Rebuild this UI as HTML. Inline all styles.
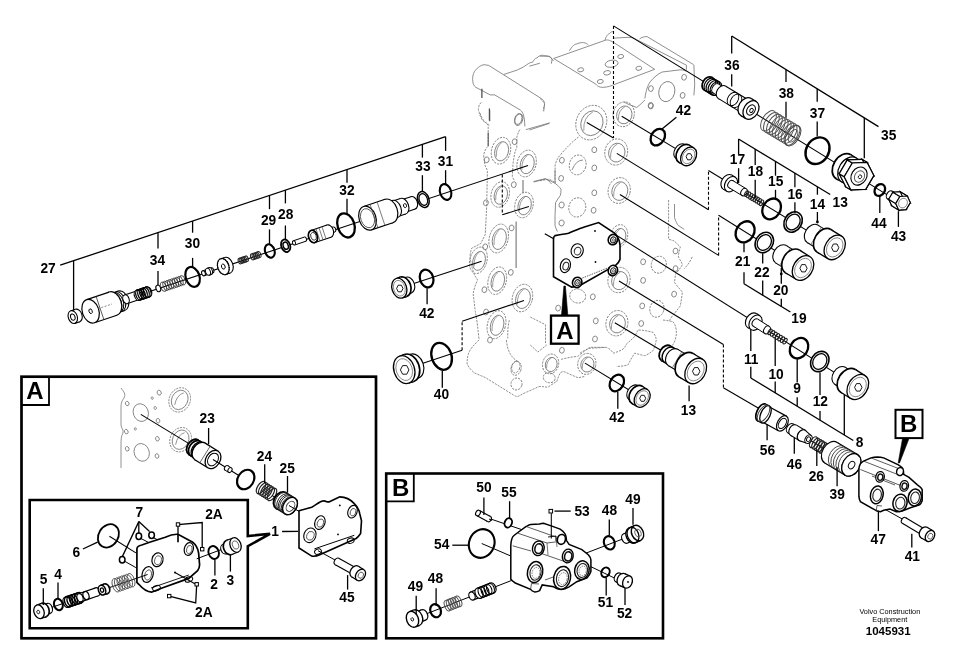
<!DOCTYPE html>
<html><head><meta charset="utf-8"><style>
html,body{margin:0;padding:0;background:#fff;width:954px;height:663px;overflow:hidden}
svg{display:block;will-change:transform}
text{font-family:"Liberation Sans",sans-serif;fill:#000}
</style></head><body>
<svg width="954" height="663" viewBox="0 0 954 663">
<rect width="954" height="663" fill="#fff"/>
<path d="M472.8,81.3 C472,76 474,72 475.1,70.7 C478,67 481,65 484.1,64.7 L488.7,65.4 L541.4,98.6 C544,100.5 545,103 544.5,105 L543.7,111.4" fill="none" stroke="#7a7a7a" stroke-width="0.85" />
<path d="M472.8,81.3 C473,84 474,86 475.8,87.3 L490.2,94.9 L494.7,94.9 L520.3,110 C523,112 524.5,116 524.9,126.5" fill="none" stroke="#7a7a7a" stroke-width="0.85" />
<ellipse cx="518.8" cy="119.7" rx="3.8" ry="6" transform="rotate(20 518.8 119.7)" fill="none" stroke="#7a7a7a" stroke-width="0.85" />
<line x1="481.9" y1="88.8" x2="481.9" y2="97.9" stroke="#444" stroke-width="1.2" />
<line x1="489.4" y1="108.4" x2="489.4" y2="120.5" stroke="#444" stroke-width="1.2" />
<path d="M481.1,102.4 C478,106 478,110 478.9,111.4 C480,116 481,118 482.6,120.5 L489.4,125" fill="none" stroke="#7a7a7a" stroke-width="0.85" stroke-dasharray="2.2,1.1"/>
<path d="M503.7,74.5 L517.3,70 L523.3,67 C528,64 530,62 532.4,62.4 C534,60 535,58 536.9,57.9 C540,55 542,55 544.5,55.6 C548,56 550,57 550.5,57.1 L553.5,60.9" fill="none" stroke="#7a7a7a" stroke-width="0.85" />
<line x1="529.4" y1="66.2" x2="539.9" y2="63.2" stroke="#7a7a7a" stroke-width="0.85" />
<line x1="529.4" y1="130" x2="549" y2="123.5" stroke="#7a7a7a" stroke-width="0.85" />
<path d="M553.6,58.5 L604.9,40.4 C607,39.5 609,39.8 613.9,42.6 L654.7,69.3 L609.4,86.4 C605,87.5 602,87.5 600.3,87.1 C598,86.5 597,85.5 595.8,84.1 Z" fill="none" stroke="#7a7a7a" stroke-width="0.85" />
<path d="M569.4,50.9 C572,46 575,44 576.2,44.1 C580,42.5 582,42.5 583.7,42.6 C586,43 587,44 588.3,44.9" fill="none" stroke="#7a7a7a" stroke-width="0.85" />
<path d="M604.9,40.4 C606,36 608,34 609.4,33.6 C611,32 612,31.5 613.9,31.3" fill="none" stroke="#7a7a7a" stroke-width="0.85" />
<path d="M613.9,38.1 L629,37.3 C633,37.5 635,38.5 636.5,39.6" fill="none" stroke="#7a7a7a" stroke-width="0.85" />
<path d="M639.6,38.9 C642,37 645,36.5 647.1,36.6 L690.9,63 C692.5,64 693.5,64.5 693.9,65.2 L694.7,84.9 L693.9,95.4" fill="none" stroke="#7a7a7a" stroke-width="0.85" />
<path d="M636.6,39.6 L686.4,65.2 L686.4,69.8" fill="none" stroke="#7a7a7a" stroke-width="0.85" />
<ellipse cx="580.7" cy="69.8" rx="3" ry="2" transform="rotate(-10 580.7 69.8)" fill="none" stroke="#7a7a7a" stroke-width="0.85" />
<ellipse cx="611.6" cy="63.7" rx="6.5" ry="3.5" transform="rotate(-10 611.6 63.7)" fill="none" stroke="#7a7a7a" stroke-width="0.85" />
<ellipse cx="607.1" cy="72.8" rx="3.5" ry="2.2" transform="rotate(-10 607.1 72.8)" fill="none" stroke="#7a7a7a" stroke-width="0.85" />
<ellipse cx="600.3" cy="81.5" rx="3" ry="2" transform="rotate(-10 600.3 81.5)" fill="none" stroke="#7a7a7a" stroke-width="0.85" />
<ellipse cx="620.7" cy="56.5" rx="3" ry="2" transform="rotate(-10 620.7 56.5)" fill="none" stroke="#7a7a7a" stroke-width="0.85" />
<ellipse cx="638.8" cy="68.3" rx="3" ry="2" transform="rotate(-10 638.8 68.3)" fill="none" stroke="#7a7a7a" stroke-width="0.85" />
<path d="M540,56.2 L549,56.2 C551,57.5 552,59 552,60 L551.3,63.7" fill="none" stroke="#7a7a7a" stroke-width="0.85" />
<path d="M540,98.4 C543,101 544.5,103 544.5,104.5 L543,110.5" fill="none" stroke="#7a7a7a" stroke-width="0.85" stroke-dasharray="2.2,1.1"/>
<path d="M644.9,98.4 C646,90 648,85 650.2,81.8 C654,77 658,74 662.2,72 L680.3,69.8 C683,70 685,70.5 686.4,71.3" fill="none" stroke="#7a7a7a" stroke-width="0.85" />
<ellipse cx="666.8" cy="91.6" rx="7.9" ry="10.2" transform="rotate(15 666.8 91.6)" fill="none" stroke="#7a7a7a" stroke-width="0.85" />
<path d="M624,102 C626,103 627.5,104 629,104.5 L636.6,107.5 C640,105 643,102 644.9,100" fill="none" stroke="#7a7a7a" stroke-width="0.85" />
<line x1="489.7" y1="110" x2="489.7" y2="121.3" stroke="#555" stroke-width="1.1" />
<path d="M479.9,113 C481,116 482,118 483.7,120.6 L488.2,125.1 L488.2,146.2 C487.5,147 487,147.5 486.7,147.7 C485,150 484,153 483.7,155.2 C484,160 484.5,163 485.2,165.8 L487.4,170.3 L486.7,206 C486,220 485.5,230 485.2,234.7 C483,239 482,241 480.6,243.7 C476,246 474,247 471.6,248.3 C470.5,252 470,255 470.1,257.3 C471,265 473,271 474.6,275.4 L477.6,280 C475,285 474,290 473.1,293.5 C474,300 475,310 475.4,312 C477,320 478,330 479.1,339.8 C474,345 470,349 468.6,353.3 C467.5,357 467,360 467.1,363.9 C469,368 472,371 474.6,373 L485.2,377.5 L514,395.3 C516,396.5 517,396.7 517.7,396.6 C521,395 524,393 527.8,391.6 L539.1,386.5 C543,386.5 545,387 547.9,387.2 C551,385 554,383 556.7,381.5 C558,378 559,375 560.5,372.7 L563,371.4 C568,373 573,376 578.1,377.7 L584.4,376.5" fill="none" stroke="#7a7a7a" stroke-width="0.85" stroke-dasharray="2.2,1.1"/>
<line x1="488.2" y1="132.6" x2="488.2" y2="146.2" stroke="#555" stroke-width="1.1" />
<path d="M519.9,129.6 C519,131 518.5,132 518.3,132.6 L516.8,137.1 L516.8,147.7 C515.5,150 515,152 514.6,153.7 L513.1,162.8 L512.3,176.4 C513,178.5 514,180 514.6,180.9" fill="none" stroke="#7a7a7a" stroke-width="0.85" stroke-dasharray="2.2,1.1"/>
<line x1="516.1" y1="221.5" x2="516.1" y2="268" stroke="#666" stroke-width="1.0" />
<line x1="523" y1="180" x2="523" y2="193" stroke="#666" stroke-width="1.0" />
<line x1="525.9" y1="129.6" x2="550" y2="122.8" stroke="#7a7a7a" stroke-width="0.85" />
<path d="M533.4,181.6 L545.5,178.6 C548,180 550,182 551.5,183.9" fill="none" stroke="#7a7a7a" stroke-width="0.85" />
<path d="M578.5,137 C572,142 566,148 559.6,155.8 C557,159 556,162 555.1,164.9 L555.1,183 C553,181 551,180 549,179.2 L540,180.7" fill="none" stroke="#7a7a7a" stroke-width="0.85" stroke-dasharray="2.2,1.1"/>
<path d="M533.9,182 L545.3,179 C549,180 552,181.5 555,183.3 C558,185.5 560,187.5 561,189.3 C561,191.5 560.8,193.5 560.4,195.3 C558.5,198 557,200 555.6,202.6 L555,215.8 L555,225.5 C555.8,228 556.6,230 557.4,231.5" fill="none" stroke="#7a7a7a" stroke-width="0.85" />
<line x1="555" y1="170" x2="555" y2="183.3" stroke="#7a7a7a" stroke-width="0.85" />
<ellipse cx="577.3" cy="207.4" rx="8.4" ry="9.7" transform="rotate(15 577.3 207.4)" fill="none" stroke="#7a7a7a" stroke-width="0.85" stroke-dasharray="2.2,1.1"/>
<ellipse cx="561.6" cy="205" rx="2.6" ry="3" transform="rotate(10 561.6 205)" fill="none" stroke="#7a7a7a" stroke-width="0.85" />
<ellipse cx="561.6" cy="223" rx="2.6" ry="3" transform="rotate(10 561.6 223)" fill="none" stroke="#7a7a7a" stroke-width="0.85" />
<path d="M674.5,204 L674.5,217.6 C676,222 677,224 678.4,225.5 L684.3,229.4" fill="none" stroke="#7a7a7a" stroke-width="0.85" />
<path d="M668.6,200 L668.6,239.2 C671,240 673,240.5 674.5,241.2 L680.4,247 C679,251 678.5,254 678.4,256.9 C680,260 681.5,262 682.4,264.7 C680,269 677,272 675.5,274.5 L674.5,282.4 C677,286 680,289 682.4,292.2 L680.4,305.9 C677,310 675,313 672.5,315.7 L668.6,321.6" fill="none" stroke="#7a7a7a" stroke-width="0.85" stroke-dasharray="2.2,1.1"/>
<path d="M692.2,256.9 C690,262 687,266 684.3,268.6" fill="none" stroke="#7a7a7a" stroke-width="0.85" stroke-dasharray="2.2,1.1"/>
<path d="M663,320 C667,320.5 670,321 672.9,321.7 C675,324 676,327 676.2,330 C677,336 675,342 672,346" fill="none" stroke="#7a7a7a" stroke-width="0.85" stroke-dasharray="2.2,1.1"/>
<path d="M580,353.2 C583,351 587,349 590,348.2 L606.5,347.4 C610,349 612,351 613.2,353.2 C617,352 620,351 623.1,349 C625,347 626,345.5 626.4,344 C630,341 632,339 634.7,336.6 C636,334 637,332 638,330 C643,330 648,331 653,332.4 C655,335 656,337 656.3,339.9 C655.5,344 654.5,348 653,350.7 C650,353 647,355 644.7,355.7 C641,355 638,354 634.7,353.2 C632,357 630,361 628.1,364.8 C624,366 620,366.5 616.5,366.4" fill="none" stroke="#7a7a7a" stroke-width="0.85" stroke-dasharray="2.2,1.1"/>
<path d="M561.1,359.4 C566,358 571,357 577.7,356.4 C582,353 586,350 589.8,347.3 L604.9,347.3" fill="none" stroke="#7a7a7a" stroke-width="0.85" stroke-dasharray="2.2,1.1"/>
<path d="M506.4,340 C507,346 508,350 510.2,353.8 C512,357 514,359 517.7,361.4" fill="none" stroke="#7a7a7a" stroke-width="0.85" stroke-dasharray="2.2,1.1"/>
<path d="M530.3,345 L537.9,352 L546.7,345" fill="none" stroke="#7a7a7a" stroke-width="0.85" stroke-dasharray="2.2,1.1"/>
<path d="M530.4,317.1 L545.5,324.7 L545.5,344.3 M509.3,320.2 C508,326 507.5,332 507.8,338.3" fill="none" stroke="#7a7a7a" stroke-width="0.85" stroke-dasharray="2.2,1.1"/>
<ellipse cx="501" cy="150.7" rx="9.4" ry="13.6" transform="rotate(15 501 150.7)" fill="none" stroke="#7a7a7a" stroke-width="0.85" stroke-dasharray="2.2,1.1"/>
<ellipse cx="501.6" cy="151.3" rx="6.8" ry="9.8" transform="rotate(15 501.6 151.3)" fill="none" stroke="#7a7a7a" stroke-width="0.85" />
<path d="M496.3,156.8 Q495.8,146.6 501.9,142.5" fill="none" stroke="#7a7a7a" stroke-width="0.765" />
<ellipse cx="526.6" cy="163.5" rx="9.4" ry="13.6" transform="rotate(15 526.6 163.5)" fill="none" stroke="#7a7a7a" stroke-width="0.85" stroke-dasharray="2.2,1.1"/>
<ellipse cx="527.2" cy="164.1" rx="6.8" ry="9.8" transform="rotate(15 527.2 164.1)" fill="none" stroke="#7a7a7a" stroke-width="0.85" />
<path d="M521.9,169.6 Q521.4,159.4 527.5,155.3" fill="none" stroke="#7a7a7a" stroke-width="0.765" />
<ellipse cx="500.2" cy="194.5" rx="9" ry="13" transform="rotate(15 500.2 194.5)" fill="none" stroke="#7a7a7a" stroke-width="0.85" stroke-dasharray="2.2,1.1"/>
<ellipse cx="500.8" cy="195.1" rx="6.5" ry="9.4" transform="rotate(15 500.8 195.1)" fill="none" stroke="#7a7a7a" stroke-width="0.85" />
<path d="M495.7,200.3 Q495.2,190.6 501.1,186.7" fill="none" stroke="#7a7a7a" stroke-width="0.765" />
<ellipse cx="524" cy="205" rx="9" ry="13" transform="rotate(15 524 205)" fill="none" stroke="#7a7a7a" stroke-width="0.85" stroke-dasharray="2.2,1.1"/>
<ellipse cx="524.6" cy="205.6" rx="6.5" ry="9.4" transform="rotate(15 524.6 205.6)" fill="none" stroke="#7a7a7a" stroke-width="0.85" />
<path d="M519.5,210.8 Q519.0,201.1 524.9,197.2" fill="none" stroke="#7a7a7a" stroke-width="0.765" />
<ellipse cx="498.7" cy="238.5" rx="9.4" ry="14.7" transform="rotate(15 498.7 238.5)" fill="none" stroke="#7a7a7a" stroke-width="0.85" stroke-dasharray="2.2,1.1"/>
<ellipse cx="499.3" cy="239.1" rx="6.8" ry="10.6" transform="rotate(15 499.3 239.1)" fill="none" stroke="#7a7a7a" stroke-width="0.85" />
<path d="M494.0,245.1 Q493.5,234.1 499.6,229.7" fill="none" stroke="#7a7a7a" stroke-width="0.765" />
<ellipse cx="478.4" cy="260.3" rx="8.5" ry="13.5" transform="rotate(15 478.4 260.3)" fill="none" stroke="#7a7a7a" stroke-width="0.85" stroke-dasharray="2.2,1.1"/>
<ellipse cx="479" cy="260.9" rx="6.1" ry="9.7" transform="rotate(15 479 260.9)" fill="none" stroke="#7a7a7a" stroke-width="0.85" />
<path d="M474.1,266.4 Q473.7,256.2 479.2,252.2" fill="none" stroke="#7a7a7a" stroke-width="0.765" />
<ellipse cx="497.2" cy="280.7" rx="9" ry="14" transform="rotate(15 497.2 280.7)" fill="none" stroke="#7a7a7a" stroke-width="0.85" stroke-dasharray="2.2,1.1"/>
<ellipse cx="497.8" cy="281.3" rx="6.5" ry="10.1" transform="rotate(15 497.8 281.3)" fill="none" stroke="#7a7a7a" stroke-width="0.85" />
<path d="M492.7,287.0 Q492.2,276.5 498.1,272.3" fill="none" stroke="#7a7a7a" stroke-width="0.765" />
<ellipse cx="522.4" cy="298" rx="10" ry="14" transform="rotate(15 522.4 298)" fill="none" stroke="#7a7a7a" stroke-width="0.85" stroke-dasharray="2.2,1.1"/>
<ellipse cx="523" cy="298.6" rx="7.2" ry="10.1" transform="rotate(15 523 298.6)" fill="none" stroke="#7a7a7a" stroke-width="0.85" />
<path d="M517.4,304.3 Q516.9,293.8 523.4,289.6" fill="none" stroke="#7a7a7a" stroke-width="0.765" />
<ellipse cx="496.5" cy="324.7" rx="9" ry="14.3" transform="rotate(15 496.5 324.7)" fill="none" stroke="#7a7a7a" stroke-width="0.85" stroke-dasharray="2.2,1.1"/>
<ellipse cx="497.1" cy="325.3" rx="6.5" ry="10.3" transform="rotate(15 497.1 325.3)" fill="none" stroke="#7a7a7a" stroke-width="0.85" />
<path d="M492.0,331.1 Q491.6,320.4 497.4,316.1" fill="none" stroke="#7a7a7a" stroke-width="0.765" />
<ellipse cx="616.2" cy="152" rx="11.3" ry="13.2" transform="rotate(15 616.2 152)" fill="none" stroke="#7a7a7a" stroke-width="0.85" stroke-dasharray="2.2,1.1"/>
<ellipse cx="616.8" cy="152.6" rx="8.1" ry="9.5" transform="rotate(15 616.8 152.6)" fill="none" stroke="#7a7a7a" stroke-width="0.85" />
<path d="M610.6,157.9 Q610.0,148.0 617.3,144.1" fill="none" stroke="#7a7a7a" stroke-width="0.765" />
<ellipse cx="623.7" cy="114.3" rx="10.5" ry="12.5" transform="rotate(15 623.7 114.3)" fill="none" stroke="#7a7a7a" stroke-width="0.85" stroke-dasharray="2.2,1.1"/>
<ellipse cx="624.3" cy="114.9" rx="7.6" ry="9" transform="rotate(15 624.3 114.9)" fill="none" stroke="#7a7a7a" stroke-width="0.85" />
<path d="M618.5,119.9 Q617.9,110.5 624.8,106.8" fill="none" stroke="#7a7a7a" stroke-width="0.765" />
<ellipse cx="619.2" cy="190.5" rx="11" ry="13" transform="rotate(15 619.2 190.5)" fill="none" stroke="#7a7a7a" stroke-width="0.85" stroke-dasharray="2.2,1.1"/>
<ellipse cx="619.8" cy="191.1" rx="7.9" ry="9.4" transform="rotate(15 619.8 191.1)" fill="none" stroke="#7a7a7a" stroke-width="0.85" />
<path d="M613.7,196.3 Q613.2,186.6 620.3,182.7" fill="none" stroke="#7a7a7a" stroke-width="0.765" />
<ellipse cx="616.9" cy="323.2" rx="10.9" ry="12.8" transform="rotate(15 616.9 323.2)" fill="none" stroke="#7a7a7a" stroke-width="0.85" stroke-dasharray="2.2,1.1"/>
<ellipse cx="617.5" cy="323.8" rx="7.8" ry="9.2" transform="rotate(15 617.5 323.8)" fill="none" stroke="#7a7a7a" stroke-width="0.85" />
<path d="M611.4,329.0 Q610.9,319.4 618.0,315.5" fill="none" stroke="#7a7a7a" stroke-width="0.765" />
<ellipse cx="586.8" cy="363.9" rx="9" ry="10.6" transform="rotate(15 586.8 363.9)" fill="none" stroke="#7a7a7a" stroke-width="0.85" stroke-dasharray="2.2,1.1"/>
<ellipse cx="587.4" cy="364.5" rx="6.5" ry="7.6" transform="rotate(15 587.4 364.5)" fill="none" stroke="#7a7a7a" stroke-width="0.85" />
<path d="M582.3,368.7 Q581.8,360.7 587.7,357.5" fill="none" stroke="#7a7a7a" stroke-width="0.765" />
<ellipse cx="550.6" cy="363.9" rx="8" ry="10" transform="rotate(15 550.6 363.9)" fill="none" stroke="#7a7a7a" stroke-width="0.85" stroke-dasharray="2.2,1.1"/>
<ellipse cx="551.2" cy="364.5" rx="5.8" ry="7.2" transform="rotate(15 551.2 364.5)" fill="none" stroke="#7a7a7a" stroke-width="0.85" />
<path d="M546.6,368.4 Q546.2,360.9 551.4,357.9" fill="none" stroke="#7a7a7a" stroke-width="0.765" />
<ellipse cx="619" cy="236" rx="8.5" ry="11.5" transform="rotate(15 619 236)" fill="none" stroke="#7a7a7a" stroke-width="0.85" stroke-dasharray="2.2,1.1"/>
<ellipse cx="619.6" cy="236.6" rx="6.1" ry="8.3" transform="rotate(15 619.6 236.6)" fill="none" stroke="#7a7a7a" stroke-width="0.85" />
<path d="M614.8,241.2 Q614.3,232.6 619.9,229.1" fill="none" stroke="#7a7a7a" stroke-width="0.765" />
<ellipse cx="619" cy="280" rx="11" ry="12.8" transform="rotate(15 619 280)" fill="none" stroke="#7a7a7a" stroke-width="0.85" stroke-dasharray="2.2,1.1"/>
<ellipse cx="619.6" cy="280.6" rx="7.9" ry="9.2" transform="rotate(15 619.6 280.6)" fill="none" stroke="#7a7a7a" stroke-width="0.85" />
<path d="M613.5,285.8 Q613.0,276.2 620.1,272.3" fill="none" stroke="#7a7a7a" stroke-width="0.765" />
<ellipse cx="591.3" cy="122.6" rx="15" ry="17.7" transform="rotate(25 591.3 122.6)" fill="none" stroke="#7a7a7a" stroke-width="0.85" stroke-dasharray="2.2,1.1"/>
<ellipse cx="591.9" cy="123.2" rx="10.8" ry="12.7" transform="rotate(25 591.9 123.2)" fill="none" stroke="#7a7a7a" stroke-width="0.85" />
<path d="M583.8,130.6 Q583.0,117.3 592.8,112.0" fill="none" stroke="#7a7a7a" stroke-width="0.765" />
<ellipse cx="577.7" cy="164.9" rx="8.3" ry="10" transform="rotate(15 577.7 164.9)" fill="none" stroke="#7a7a7a" stroke-width="0.85" stroke-dasharray="2.2,1.1"/>
<ellipse cx="658.8" cy="264.7" rx="7.5" ry="8.5" transform="rotate(15 658.8 264.7)" fill="none" stroke="#7a7a7a" stroke-width="0.85" stroke-dasharray="2.2,1.1"/>
<ellipse cx="656.9" cy="308.8" rx="7" ry="8.5" transform="rotate(15 656.9 308.8)" fill="none" stroke="#7a7a7a" stroke-width="0.85" stroke-dasharray="2.2,1.1"/>
<ellipse cx="516.1" cy="368.4" rx="5" ry="7" transform="rotate(15 516.1 368.4)" fill="none" stroke="#7a7a7a" stroke-width="0.85" stroke-dasharray="2.2,1.1"/>
<ellipse cx="577.7" cy="296" rx="8" ry="7" transform="rotate(15 577.7 296)" fill="none" stroke="#7a7a7a" stroke-width="0.85" stroke-dasharray="2.2,1.1"/>
<ellipse cx="516.5" cy="384" rx="5.5" ry="6" transform="rotate(15 516.5 384)" fill="none" stroke="#7a7a7a" stroke-width="0.85" stroke-dasharray="2.2,1.1"/>
<ellipse cx="549.2" cy="377.7" rx="6" ry="5" transform="rotate(15 549.2 377.7)" fill="none" stroke="#7a7a7a" stroke-width="0.85" stroke-dasharray="2.2,1.1"/>
<ellipse cx="515.8" cy="367" rx="4" ry="6" transform="rotate(15 515.8 367)" fill="none" stroke="#7a7a7a" stroke-width="0.85" stroke-dasharray="2.2,1.1"/>
<path d="M572,170 Q576,160 583,160" fill="none" stroke="#7a7a7a" stroke-width="0.85" />
<ellipse cx="514.6" cy="141.7" rx="2.4" ry="2.9" transform="rotate(10 514.6 141.7)" fill="none" stroke="#7a7a7a" stroke-width="0.85" />
<ellipse cx="486.7" cy="159.8" rx="2.4" ry="2.9" transform="rotate(10 486.7 159.8)" fill="none" stroke="#7a7a7a" stroke-width="0.85" />
<ellipse cx="513.8" cy="184.7" rx="2.4" ry="2.9" transform="rotate(10 513.8 184.7)" fill="none" stroke="#7a7a7a" stroke-width="0.85" />
<ellipse cx="485.9" cy="202.8" rx="2.4" ry="2.9" transform="rotate(10 485.9 202.8)" fill="none" stroke="#7a7a7a" stroke-width="0.85" />
<ellipse cx="511.6" cy="227.9" rx="2.4" ry="2.9" transform="rotate(10 511.6 227.9)" fill="none" stroke="#7a7a7a" stroke-width="0.85" />
<ellipse cx="485.2" cy="246.8" rx="2.4" ry="2.9" transform="rotate(10 485.2 246.8)" fill="none" stroke="#7a7a7a" stroke-width="0.85" />
<ellipse cx="510.8" cy="272.4" rx="2.4" ry="2.9" transform="rotate(10 510.8 272.4)" fill="none" stroke="#7a7a7a" stroke-width="0.85" />
<ellipse cx="484.4" cy="289.7" rx="2.4" ry="2.9" transform="rotate(10 484.4 289.7)" fill="none" stroke="#7a7a7a" stroke-width="0.85" />
<ellipse cx="594.3" cy="149.8" rx="2.4" ry="2.9" transform="rotate(10 594.3 149.8)" fill="none" stroke="#7a7a7a" stroke-width="0.85" />
<ellipse cx="594.3" cy="167.9" rx="2.4" ry="2.9" transform="rotate(10 594.3 167.9)" fill="none" stroke="#7a7a7a" stroke-width="0.85" />
<ellipse cx="561.9" cy="160.3" rx="2.4" ry="2.9" transform="rotate(10 561.9 160.3)" fill="none" stroke="#7a7a7a" stroke-width="0.85" />
<ellipse cx="561.1" cy="178.4" rx="2.4" ry="2.9" transform="rotate(10 561.1 178.4)" fill="none" stroke="#7a7a7a" stroke-width="0.85" />
<ellipse cx="594.3" cy="192.8" rx="2.4" ry="2.9" transform="rotate(10 594.3 192.8)" fill="none" stroke="#7a7a7a" stroke-width="0.85" />
<ellipse cx="592.8" cy="296.8" rx="2.4" ry="2.9" transform="rotate(10 592.8 296.8)" fill="none" stroke="#7a7a7a" stroke-width="0.85" />
<ellipse cx="595.8" cy="320.9" rx="2.4" ry="2.9" transform="rotate(10 595.8 320.9)" fill="none" stroke="#7a7a7a" stroke-width="0.85" />
<ellipse cx="595" cy="339" rx="2.4" ry="2.9" transform="rotate(10 595 339)" fill="none" stroke="#7a7a7a" stroke-width="0.85" />
<ellipse cx="561.9" cy="350.3" rx="2.4" ry="2.9" transform="rotate(10 561.9 350.3)" fill="none" stroke="#7a7a7a" stroke-width="0.85" />
<ellipse cx="558.1" cy="308.1" rx="2.4" ry="2.9" transform="rotate(10 558.1 308.1)" fill="none" stroke="#7a7a7a" stroke-width="0.85" />
<ellipse cx="643.1" cy="261.8" rx="2.4" ry="2.9" transform="rotate(10 643.1 261.8)" fill="none" stroke="#7a7a7a" stroke-width="0.85" />
<ellipse cx="643.1" cy="280.4" rx="2.4" ry="2.9" transform="rotate(10 643.1 280.4)" fill="none" stroke="#7a7a7a" stroke-width="0.85" />
<ellipse cx="642.2" cy="305.9" rx="2.4" ry="2.9" transform="rotate(10 642.2 305.9)" fill="none" stroke="#7a7a7a" stroke-width="0.85" />
<ellipse cx="641.2" cy="323.5" rx="2.4" ry="2.9" transform="rotate(10 641.2 323.5)" fill="none" stroke="#7a7a7a" stroke-width="0.85" />
<ellipse cx="675.5" cy="251" rx="2.4" ry="2.9" transform="rotate(10 675.5 251)" fill="none" stroke="#7a7a7a" stroke-width="0.85" />
<ellipse cx="675.5" cy="268.6" rx="2.4" ry="2.9" transform="rotate(10 675.5 268.6)" fill="none" stroke="#7a7a7a" stroke-width="0.85" />
<ellipse cx="674.1" cy="294.1" rx="2.4" ry="2.9" transform="rotate(10 674.1 294.1)" fill="none" stroke="#7a7a7a" stroke-width="0.85" />
<ellipse cx="650.6" cy="105.4" rx="2.4" ry="2.9" transform="rotate(10 650.6 105.4)" fill="none" stroke="#7a7a7a" stroke-width="0.85" />
<ellipse cx="593.6" cy="210.3" rx="2.4" ry="2.9" transform="rotate(10 593.6 210.3)" fill="none" stroke="#7a7a7a" stroke-width="0.85" />
<ellipse cx="650.9" cy="88.6" rx="2.4" ry="2.9" transform="rotate(10 650.9 88.6)" fill="none" stroke="#7a7a7a" stroke-width="0.85" />
<ellipse cx="684.1" cy="77.3" rx="2.4" ry="2.9" transform="rotate(10 684.1 77.3)" fill="none" stroke="#7a7a7a" stroke-width="0.85" />
<ellipse cx="650.9" cy="106" rx="2.4" ry="2.9" transform="rotate(10 650.9 106)" fill="none" stroke="#7a7a7a" stroke-width="0.85" />
<ellipse cx="682.6" cy="95.4" rx="2.4" ry="2.9" transform="rotate(10 682.6 95.4)" fill="none" stroke="#7a7a7a" stroke-width="0.85" />
<ellipse cx="490" cy="340" rx="2.4" ry="2.9" transform="rotate(10 490 340)" fill="none" stroke="#7a7a7a" stroke-width="0.85" />
<ellipse cx="486" cy="312" rx="2.4" ry="2.9" transform="rotate(10 486 312)" fill="none" stroke="#7a7a7a" stroke-width="0.85" />
<ellipse cx="518.3" cy="119" rx="3.5" ry="5.5" transform="rotate(15 518.3 119)" fill="none" stroke="#7a7a7a" stroke-width="0.85" />
<line x1="75.3" y1="316.3" x2="528" y2="165.5" stroke="#000" stroke-width="1.1" />
<line x1="502.3" y1="174.5" x2="502.3" y2="214.8" stroke="#000" stroke-width="1.1" stroke-dasharray="3,2"/>
<line x1="502.3" y1="214.8" x2="528.9" y2="206.5" stroke="#000" stroke-width="1.1" />
<line x1="399.3" y1="288.2" x2="481.6" y2="261.3" stroke="#000" stroke-width="1.1" />
<line x1="404.2" y1="369.6" x2="462.1" y2="350.2" stroke="#000" stroke-width="1.1" />
<line x1="462.1" y1="350.2" x2="462.1" y2="321.3" stroke="#000" stroke-width="1.1" stroke-dasharray="3,2"/>
<line x1="462.1" y1="321.3" x2="524" y2="300.5" stroke="#000" stroke-width="1.1" />
<line x1="613.5" y1="25.9" x2="897.8" y2="201.4" stroke="#000" stroke-width="1.1" />
<line x1="613.5" y1="25.9" x2="613.5" y2="138" stroke="#000" stroke-width="1.1" stroke-dasharray="3,2"/>
<line x1="586.8" y1="122.6" x2="613.5" y2="138" stroke="#000" stroke-width="1.1" />
<line x1="621.7" y1="116.3" x2="688.6" y2="156.4" stroke="#000" stroke-width="1.1" />
<line x1="616.8" y1="153.4" x2="708.5" y2="209.8" stroke="#000" stroke-width="1.1" />
<line x1="708.5" y1="209.8" x2="708.5" y2="170.5" stroke="#000" stroke-width="1.1" stroke-dasharray="3,2"/>
<line x1="708.5" y1="170.5" x2="834.7" y2="247.4" stroke="#000" stroke-width="1.1" />
<line x1="619.9" y1="194.5" x2="718.6" y2="255.4" stroke="#000" stroke-width="1.1" />
<line x1="718.6" y1="255.4" x2="718.6" y2="215.3" stroke="#000" stroke-width="1.1" stroke-dasharray="3,2"/>
<line x1="718.6" y1="215.3" x2="803" y2="268" stroke="#000" stroke-width="1.1" />
<line x1="600" y1="224.9" x2="857.8" y2="387.1" stroke="#000" stroke-width="1.1" />
<line x1="619" y1="281" x2="723.4" y2="344.5" stroke="#000" stroke-width="1.1" />
<line x1="723.4" y1="344.5" x2="723.4" y2="387.7" stroke="#000" stroke-width="1.1" stroke-dasharray="3,2"/>
<line x1="723.4" y1="387.7" x2="759" y2="408.5" stroke="#000" stroke-width="1.1" />
<line x1="614.8" y1="322.7" x2="695.7" y2="371" stroke="#000" stroke-width="1.1" />
<line x1="585" y1="363.1" x2="642.2" y2="398" stroke="#000" stroke-width="1.1" />
<ellipse cx="77.5" cy="315.6" rx="4.5" ry="6.6" transform="rotate(161.4 77.5 315.6)" fill="#fff" stroke="#000" stroke-width="1.1" />
<polygon points="75.4,309.3 70.7,310.9 74.9,323.4 79.6,321.8" fill="#fff" stroke="none" stroke-width="0" />
<line x1="75.4" y1="309.3" x2="70.7" y2="310.9" stroke="#000" stroke-width="1.1" />
<line x1="79.6" y1="321.8" x2="74.9" y2="323.4" stroke="#000" stroke-width="1.1" />
<ellipse cx="72.8" cy="317.1" rx="4.5" ry="6.6" transform="rotate(161.4 72.8 317.1)" fill="#fff" stroke="#000" stroke-width="1.1" />
<ellipse cx="72.8" cy="317.1" rx="2.2" ry="3.2" transform="rotate(-18.6 72.8 317.1)" fill="none" stroke="#000" stroke-width="1.0" />
<ellipse cx="121.5" cy="300.8" rx="6.9" ry="10.2" transform="rotate(161.4 121.5 300.8)" fill="#fff" stroke="#000" stroke-width="1.1" />
<polygon points="118.3,291.1 109.8,294 116.2,313.3 124.7,310.5" fill="#fff" stroke="none" stroke-width="0" />
<line x1="118.3" y1="291.1" x2="109.8" y2="294" stroke="#000" stroke-width="1.1" />
<line x1="124.7" y1="310.5" x2="116.2" y2="313.3" stroke="#000" stroke-width="1.1" />
<ellipse cx="113" cy="303.6" rx="6.9" ry="10.2" transform="rotate(161.4 113 303.6)" fill="#fff" stroke="#000" stroke-width="1.1" />
<ellipse cx="114.5" cy="303.1" rx="6.9" ry="10.2" transform="rotate(-18.6 114.5 303.1)" fill="none" stroke="#000" stroke-width="1.0" />
<ellipse cx="116.5" cy="302.5" rx="6.9" ry="10.2" transform="rotate(-18.6 116.5 302.5)" fill="none" stroke="#000" stroke-width="1.0" />
<ellipse cx="118.5" cy="301.8" rx="6.9" ry="10.2" transform="rotate(-18.6 118.5 301.8)" fill="none" stroke="#000" stroke-width="1.0" />
<ellipse cx="113" cy="303.6" rx="8.3" ry="12.2" transform="rotate(161.4 113 303.6)" fill="#fff" stroke="#000" stroke-width="1.2" />
<polygon points="109.1,292.1 86.7,299.6 94.5,322.7 116.9,315.2" fill="#fff" stroke="none" stroke-width="0" />
<line x1="109.1" y1="292.1" x2="86.7" y2="299.6" stroke="#000" stroke-width="1.2" />
<line x1="116.9" y1="315.2" x2="94.5" y2="322.7" stroke="#000" stroke-width="1.2" />
<ellipse cx="90.6" cy="311.2" rx="8.3" ry="12.2" transform="rotate(161.4 90.6 311.2)" fill="#fff" stroke="#000" stroke-width="1.2" />
<line x1="98" y1="308.7" x2="112" y2="304" stroke="#555" stroke-width="0.7" stroke-dasharray="2,1.5"/>
<line x1="96.1" y1="296.4" x2="103.9" y2="319.6" stroke="#333" stroke-width="0.8" />
<ellipse cx="90.6" cy="311.2" rx="1.6" ry="2.4" transform="rotate(-18.6 90.6 311.2)" fill="none" stroke="#000" stroke-width="0.9" />
<ellipse cx="138" cy="295.3" rx="3.1" ry="4.6" transform="rotate(161.4 138 295.3)" fill="#fff" stroke="#000" stroke-width="1.1" />
<polygon points="136.5,290.9 124.5,294.9 127.5,303.6 139.5,299.6" fill="#fff" stroke="none" stroke-width="0" />
<line x1="136.5" y1="290.9" x2="124.5" y2="294.9" stroke="#000" stroke-width="1.1" />
<line x1="139.5" y1="299.6" x2="127.5" y2="303.6" stroke="#000" stroke-width="1.1" />
<ellipse cx="126" cy="299.3" rx="3.1" ry="4.6" transform="rotate(161.4 126 299.3)" fill="#fff" stroke="#000" stroke-width="1.1" />
<ellipse cx="148" cy="291.9" rx="3.6" ry="5.3" transform="rotate(161.4 148 291.9)" fill="#fff" stroke="#000" stroke-width="1.1" />
<polygon points="146.3,286.9 136.3,290.2 139.7,300.3 149.7,296.9" fill="#fff" stroke="none" stroke-width="0" />
<line x1="146.3" y1="286.9" x2="136.3" y2="290.2" stroke="#000" stroke-width="1.1" />
<line x1="149.7" y1="296.9" x2="139.7" y2="300.3" stroke="#000" stroke-width="1.1" />
<ellipse cx="138" cy="295.3" rx="3.6" ry="5.3" transform="rotate(161.4 138 295.3)" fill="#fff" stroke="#000" stroke-width="1.1" />
<ellipse cx="139.5" cy="294.7" rx="3.6" ry="5.3" transform="rotate(-18.6 139.5 294.7)" fill="none" stroke="#000" stroke-width="1.3" />
<ellipse cx="141.5" cy="294.1" rx="3.6" ry="5.3" transform="rotate(-18.6 141.5 294.1)" fill="none" stroke="#000" stroke-width="1.3" />
<ellipse cx="143.5" cy="293.4" rx="3.6" ry="5.3" transform="rotate(-18.6 143.5 293.4)" fill="none" stroke="#000" stroke-width="1.3" />
<ellipse cx="145.5" cy="292.7" rx="3.6" ry="5.3" transform="rotate(-18.6 145.5 292.7)" fill="none" stroke="#000" stroke-width="1.3" />
<ellipse cx="147.3" cy="292.1" rx="3.6" ry="5.3" transform="rotate(-18.6 147.3 292.1)" fill="none" stroke="#000" stroke-width="1.3" />
<ellipse cx="158.3" cy="288.4" rx="2.3" ry="3.4" transform="rotate(-18.6 158.3 288.4)" fill="#fff" stroke="#000" stroke-width="1.1" />
<ellipse cx="163.5" cy="286.7" rx="2.7" ry="4.9" transform="rotate(-18.6 163.5 286.7)" fill="none" stroke="#333" stroke-width="0.8" />
<ellipse cx="165.9" cy="285.9" rx="2.7" ry="4.9" transform="rotate(-18.6 165.9 285.9)" fill="none" stroke="#333" stroke-width="0.8" />
<ellipse cx="168.2" cy="285.1" rx="2.7" ry="4.9" transform="rotate(-18.6 168.2 285.1)" fill="none" stroke="#333" stroke-width="0.8" />
<ellipse cx="170.6" cy="284.3" rx="2.7" ry="4.9" transform="rotate(-18.6 170.6 284.3)" fill="none" stroke="#333" stroke-width="0.8" />
<ellipse cx="173" cy="283.5" rx="2.7" ry="4.9" transform="rotate(-18.6 173 283.5)" fill="none" stroke="#333" stroke-width="0.8" />
<ellipse cx="175.4" cy="282.7" rx="2.7" ry="4.9" transform="rotate(-18.6 175.4 282.7)" fill="none" stroke="#333" stroke-width="0.8" />
<ellipse cx="177.8" cy="281.9" rx="2.7" ry="4.9" transform="rotate(-18.6 177.8 281.9)" fill="none" stroke="#333" stroke-width="0.8" />
<ellipse cx="180.1" cy="281.1" rx="2.7" ry="4.9" transform="rotate(-18.6 180.1 281.1)" fill="none" stroke="#333" stroke-width="0.8" />
<ellipse cx="182.5" cy="280.3" rx="2.7" ry="4.9" transform="rotate(-18.6 182.5 280.3)" fill="none" stroke="#333" stroke-width="0.8" />
<ellipse cx="192.6" cy="276.9" rx="6.9" ry="10.2" transform="rotate(-18.6 192.6 276.9)" fill="none" stroke="#000" stroke-width="2.2" />
<ellipse cx="212" cy="270.4" rx="1.8" ry="2.6" transform="rotate(161.4 212 270.4)" fill="#fff" stroke="#000" stroke-width="1.0" />
<polygon points="211.2,267.9 202.7,270.8 204.3,275.7 212.8,272.9" fill="#fff" stroke="none" stroke-width="0" />
<line x1="211.2" y1="267.9" x2="202.7" y2="270.8" stroke="#000" stroke-width="1.0" />
<line x1="212.8" y1="272.9" x2="204.3" y2="275.7" stroke="#000" stroke-width="1.0" />
<ellipse cx="203.5" cy="273.3" rx="1.8" ry="2.6" transform="rotate(161.4 203.5 273.3)" fill="#fff" stroke="#000" stroke-width="1.0" />
<ellipse cx="210" cy="271.1" rx="2.4" ry="3.6" transform="rotate(161.4 210 271.1)" fill="#fff" stroke="#000" stroke-width="1.0" />
<polygon points="208.9,267.7 206.9,268.3 209.1,275.2 211.1,274.5" fill="#fff" stroke="none" stroke-width="0" />
<line x1="208.9" y1="267.7" x2="206.9" y2="268.3" stroke="#000" stroke-width="1.0" />
<line x1="211.1" y1="274.5" x2="209.1" y2="275.2" stroke="#000" stroke-width="1.0" />
<ellipse cx="208" cy="271.8" rx="2.4" ry="3.6" transform="rotate(161.4 208 271.8)" fill="#fff" stroke="#000" stroke-width="1.0" />
<ellipse cx="227.3" cy="265.3" rx="5.6" ry="8.3" transform="rotate(161.4 227.3 265.3)" fill="#fff" stroke="#000" stroke-width="1.1" />
<polygon points="224.7,257.4 220.7,258.7 225.9,274.5 229.9,273.1" fill="#fff" stroke="none" stroke-width="0" />
<line x1="224.7" y1="257.4" x2="220.7" y2="258.7" stroke="#000" stroke-width="1.1" />
<line x1="229.9" y1="273.1" x2="225.9" y2="274.5" stroke="#000" stroke-width="1.1" />
<ellipse cx="223.3" cy="266.6" rx="5.6" ry="8.3" transform="rotate(161.4 223.3 266.6)" fill="#fff" stroke="#000" stroke-width="1.1" />
<ellipse cx="223.3" cy="266.6" rx="5.6" ry="8.3" transform="rotate(-18.6 223.3 266.6)" fill="none" stroke="#000" stroke-width="1.2" stroke-dasharray="1.2,1"/>
<ellipse cx="223.3" cy="266.6" rx="1.8" ry="2.6" transform="rotate(-18.6 223.3 266.6)" fill="none" stroke="#000" stroke-width="0.9" />
<ellipse cx="240" cy="261" rx="1.7" ry="3" transform="rotate(-18.6 240 261)" fill="none" stroke="#222" stroke-width="1.0" />
<ellipse cx="241.6" cy="260.5" rx="1.7" ry="3" transform="rotate(-18.6 241.6 260.5)" fill="none" stroke="#222" stroke-width="1.0" />
<ellipse cx="243.2" cy="259.9" rx="1.7" ry="3" transform="rotate(-18.6 243.2 259.9)" fill="none" stroke="#222" stroke-width="1.0" />
<ellipse cx="244.9" cy="259.4" rx="1.7" ry="3" transform="rotate(-18.6 244.9 259.4)" fill="none" stroke="#222" stroke-width="1.0" />
<ellipse cx="246.5" cy="258.8" rx="1.7" ry="3" transform="rotate(-18.6 246.5 258.8)" fill="none" stroke="#222" stroke-width="1.0" />
<ellipse cx="252.5" cy="256.8" rx="1.8" ry="3.2" transform="rotate(-18.6 252.5 256.8)" fill="none" stroke="#222" stroke-width="1.0" />
<ellipse cx="254.1" cy="256.3" rx="1.8" ry="3.2" transform="rotate(-18.6 254.1 256.3)" fill="none" stroke="#222" stroke-width="1.0" />
<ellipse cx="255.8" cy="255.7" rx="1.8" ry="3.2" transform="rotate(-18.6 255.8 255.7)" fill="none" stroke="#222" stroke-width="1.0" />
<ellipse cx="257.4" cy="255.2" rx="1.8" ry="3.2" transform="rotate(-18.6 257.4 255.2)" fill="none" stroke="#222" stroke-width="1.0" />
<ellipse cx="259" cy="254.6" rx="1.8" ry="3.2" transform="rotate(-18.6 259 254.6)" fill="none" stroke="#222" stroke-width="1.0" />
<ellipse cx="269.8" cy="251" rx="4.7" ry="6.9" transform="rotate(-18.6 269.8 251)" fill="none" stroke="#000" stroke-width="2.1" />
<ellipse cx="285.7" cy="245.7" rx="4.4" ry="6.5" transform="rotate(-18.6 285.7 245.7)" fill="#fff" stroke="#000" stroke-width="1.8" />
<ellipse cx="285.7" cy="245.7" rx="2.5" ry="3.7" transform="rotate(-18.6 285.7 245.7)" fill="none" stroke="#000" stroke-width="1.4400000000000002" />
<ellipse cx="305" cy="239.2" rx="1.5" ry="2.2" transform="rotate(161.4 305 239.2)" fill="#fff" stroke="#000" stroke-width="1.0" />
<polygon points="304.3,237.1 293.3,240.8 294.7,245 305.7,241.3" fill="#fff" stroke="none" stroke-width="0" />
<line x1="304.3" y1="237.1" x2="293.3" y2="240.8" stroke="#000" stroke-width="1.0" />
<line x1="305.7" y1="241.3" x2="294.7" y2="245" stroke="#000" stroke-width="1.0" />
<ellipse cx="294" cy="242.9" rx="1.5" ry="2.2" transform="rotate(161.4 294 242.9)" fill="#fff" stroke="#000" stroke-width="1.0" />
<ellipse cx="334" cy="229.5" rx="1.7" ry="2.5" transform="rotate(161.4 334 229.5)" fill="#fff" stroke="#000" stroke-width="1.0" />
<polygon points="333.2,227.1 327.7,227.2 330.3,235.1 334.8,231.8" fill="#fff" stroke="none" stroke-width="0" />
<line x1="333.2" y1="227.1" x2="327.7" y2="227.2" stroke="#000" stroke-width="1.0" />
<line x1="334.8" y1="231.8" x2="330.3" y2="235.1" stroke="#000" stroke-width="1.0" />
<ellipse cx="329" cy="231.1" rx="2.9" ry="4.2" transform="rotate(161.4 329 231.1)" fill="#fff" stroke="#000" stroke-width="1.0" />
<ellipse cx="329" cy="231.1" rx="4.4" ry="6.4" transform="rotate(161.4 329 231.1)" fill="#fff" stroke="#000" stroke-width="1.1" />
<polygon points="327,225.1 311,230.4 315,242.6 331,237.2" fill="#fff" stroke="none" stroke-width="0" />
<line x1="327" y1="225.1" x2="311" y2="230.4" stroke="#000" stroke-width="1.1" />
<line x1="331" y1="237.2" x2="315" y2="242.6" stroke="#000" stroke-width="1.1" />
<ellipse cx="313" cy="236.5" rx="4.4" ry="6.4" transform="rotate(161.4 313 236.5)" fill="#fff" stroke="#000" stroke-width="1.1" />
<ellipse cx="313" cy="236.5" rx="4.4" ry="6.4" transform="rotate(-18.6 313 236.5)" fill="none" stroke="#000" stroke-width="1.6" />
<ellipse cx="313.5" cy="236.3" rx="2.7" ry="4" transform="rotate(-18.6 313.5 236.3)" fill="none" stroke="#333" stroke-width="0.9" />
<line x1="316" y1="228.8" x2="320" y2="240.9" stroke="#444" stroke-width="0.7" />
<line x1="319" y1="227.8" x2="323" y2="239.9" stroke="#444" stroke-width="0.7" />
<line x1="322" y1="226.7" x2="326" y2="238.9" stroke="#444" stroke-width="0.7" />
<ellipse cx="346" cy="225.4" rx="8.4" ry="12.4" transform="rotate(-18.6 346 225.4)" fill="none" stroke="#000" stroke-width="2.3" />
<ellipse cx="413" cy="202.9" rx="4.4" ry="6.5" transform="rotate(161.4 413 202.9)" fill="#fff" stroke="#000" stroke-width="1.1" />
<polygon points="410.9,196.8 400.9,200.1 405.1,212.5 415.1,209.1" fill="#fff" stroke="none" stroke-width="0" />
<line x1="410.9" y1="196.8" x2="400.9" y2="200.1" stroke="#000" stroke-width="1.1" />
<line x1="415.1" y1="209.1" x2="405.1" y2="212.5" stroke="#000" stroke-width="1.1" />
<ellipse cx="403" cy="206.3" rx="4.4" ry="6.5" transform="rotate(161.4 403 206.3)" fill="#fff" stroke="#000" stroke-width="1.1" />
<ellipse cx="403" cy="206.3" rx="5.6" ry="8.2" transform="rotate(161.4 403 206.3)" fill="#fff" stroke="#000" stroke-width="1.1" />
<polygon points="400.4,198.5 388.4,202.5 393.6,218.1 405.6,214.1" fill="#fff" stroke="none" stroke-width="0" />
<line x1="400.4" y1="198.5" x2="388.4" y2="202.5" stroke="#000" stroke-width="1.1" />
<line x1="405.6" y1="214.1" x2="393.6" y2="218.1" stroke="#000" stroke-width="1.1" />
<ellipse cx="391" cy="210.3" rx="5.6" ry="8.2" transform="rotate(161.4 391 210.3)" fill="#fff" stroke="#000" stroke-width="1.1" />
<ellipse cx="392.5" cy="209.8" rx="6.1" ry="9" transform="rotate(-18.6 392.5 209.8)" fill="#fff" stroke="#000" stroke-width="1.1" />
<ellipse cx="395" cy="209" rx="6.1" ry="9" transform="rotate(-18.6 395 209)" fill="#fff" stroke="#000" stroke-width="1.1" />
<ellipse cx="389" cy="211" rx="8.4" ry="12.3" transform="rotate(161.4 389 211)" fill="#fff" stroke="#000" stroke-width="1.2" />
<polygon points="385.1,199.3 363.6,206.5 371.4,229.9 392.9,222.7" fill="#fff" stroke="none" stroke-width="0" />
<line x1="385.1" y1="199.3" x2="363.6" y2="206.5" stroke="#000" stroke-width="1.2" />
<line x1="392.9" y1="222.7" x2="371.4" y2="229.9" stroke="#000" stroke-width="1.2" />
<ellipse cx="367.5" cy="218.2" rx="8.4" ry="12.3" transform="rotate(161.4 367.5 218.2)" fill="#fff" stroke="#000" stroke-width="1.2" />
<line x1="370.1" y1="204.4" x2="377.9" y2="227.7" stroke="#444" stroke-width="0.7" />
<line x1="377.1" y1="202" x2="384.9" y2="225.3" stroke="#444" stroke-width="0.7" />
<ellipse cx="367.5" cy="218.2" rx="6.7" ry="9.8" transform="rotate(-18.6 367.5 218.2)" fill="none" stroke="#444" stroke-width="0.8" />
<ellipse cx="405" cy="205.6" rx="1.5" ry="2" transform="rotate(-18.6 405 205.6)" fill="none" stroke="#000" stroke-width="0.9" />
<ellipse cx="423.3" cy="199.5" rx="5.6" ry="8.2" transform="rotate(-18.6 423.3 199.5)" fill="#fff" stroke="#000" stroke-width="1.5" />
<ellipse cx="423.3" cy="199.5" rx="4.1" ry="6" transform="rotate(-18.6 423.3 199.5)" fill="none" stroke="#000" stroke-width="1.2000000000000002" />
<ellipse cx="445.6" cy="192" rx="5.5" ry="8.1" transform="rotate(-18.6 445.6 192)" fill="none" stroke="#000" stroke-width="2.1" />
<ellipse cx="708" cy="83.7" rx="5.3" ry="7.4" transform="rotate(31.5 708 83.7)" fill="#fff" stroke="#000" stroke-width="1.8" />
<polygon points="704.1,90 712.1,94.9 719.9,82.3 711.9,77.4" fill="#fff" stroke="none" stroke-width="0" />
<line x1="704.1" y1="90" x2="712.1" y2="94.9" stroke="#000" stroke-width="1.2" />
<line x1="711.9" y1="77.4" x2="719.9" y2="82.3" stroke="#000" stroke-width="1.2" />
<ellipse cx="716" cy="88.6" rx="5.3" ry="7.4" transform="rotate(31.5 716 88.6)" fill="#fff" stroke="#000" stroke-width="1.2" />
<ellipse cx="710" cy="85" rx="5.3" ry="7.4" transform="rotate(31.5 710 85)" fill="none" stroke="#000" stroke-width="1.2" />
<ellipse cx="712" cy="86.2" rx="5.3" ry="7.4" transform="rotate(31.5 712 86.2)" fill="none" stroke="#000" stroke-width="1.2" />
<ellipse cx="714" cy="87.4" rx="5.3" ry="7.4" transform="rotate(31.5 714 87.4)" fill="none" stroke="#000" stroke-width="1.2" />
<ellipse cx="716" cy="88.6" rx="3.7" ry="5.2" transform="rotate(31.5 716 88.6)" fill="#fff" stroke="#000" stroke-width="1.0" />
<polygon points="713.3,93.1 719.3,96.7 724.7,87.9 718.7,84.2" fill="#fff" stroke="none" stroke-width="0" />
<line x1="713.3" y1="93.1" x2="719.3" y2="96.7" stroke="#000" stroke-width="1.0" />
<line x1="718.7" y1="84.2" x2="724.7" y2="87.9" stroke="#000" stroke-width="1.0" />
<ellipse cx="722" cy="92.3" rx="3.7" ry="5.2" transform="rotate(31.5 722 92.3)" fill="#fff" stroke="#000" stroke-width="1.0" />
<ellipse cx="722" cy="92.3" rx="5.2" ry="7.2" transform="rotate(31.5 722 92.3)" fill="#fff" stroke="#000" stroke-width="1.1" />
<polygon points="718.2,98.4 742.2,113.1 749.8,100.8 725.8,86.2" fill="#fff" stroke="none" stroke-width="0" />
<line x1="718.2" y1="98.4" x2="742.2" y2="113.1" stroke="#000" stroke-width="1.1" />
<line x1="725.8" y1="86.2" x2="749.8" y2="100.8" stroke="#000" stroke-width="1.1" />
<ellipse cx="746" cy="107" rx="5.2" ry="7.2" transform="rotate(31.5 746 107)" fill="#fff" stroke="#000" stroke-width="1.1" />
<ellipse cx="733" cy="99" rx="5.2" ry="7.2" transform="rotate(31.5 733 99)" fill="none" stroke="#000" stroke-width="0.9" />
<ellipse cx="736" cy="100.9" rx="5.2" ry="7.2" transform="rotate(31.5 736 100.9)" fill="none" stroke="#000" stroke-width="0.9" />
<ellipse cx="746" cy="107" rx="7.2" ry="10" transform="rotate(31.5 746 107)" fill="#fff" stroke="#000" stroke-width="1.3" />
<polygon points="740.8,115.5 745.8,118.6 756.2,101.5 751.2,98.5" fill="#fff" stroke="none" stroke-width="0" />
<line x1="740.8" y1="115.5" x2="745.8" y2="118.6" stroke="#000" stroke-width="1.3" />
<line x1="751.2" y1="98.5" x2="756.2" y2="101.5" stroke="#000" stroke-width="1.3" />
<ellipse cx="751" cy="110" rx="7.2" ry="10" transform="rotate(31.5 751 110)" fill="#fff" stroke="#000" stroke-width="1.3" />
<ellipse cx="751" cy="110" rx="4" ry="5.5" transform="rotate(31.5 751 110)" fill="none" stroke="#000" stroke-width="1.0" />
<ellipse cx="751.5" cy="110.4" rx="1.6" ry="2.2" transform="rotate(31.5 751.5 110.4)" fill="none" stroke="#000" stroke-width="0.9" />
<ellipse cx="768.5" cy="120.8" rx="6.2" ry="11.3" transform="rotate(31.5 768.5 120.8)" fill="none" stroke="#555" stroke-width="1.0" />
<ellipse cx="771.4" cy="122.6" rx="6.2" ry="11.3" transform="rotate(31.5 771.4 122.6)" fill="none" stroke="#555" stroke-width="1.0" />
<ellipse cx="774.4" cy="124.4" rx="6.2" ry="11.3" transform="rotate(31.5 774.4 124.4)" fill="none" stroke="#555" stroke-width="1.0" />
<ellipse cx="777.3" cy="126.2" rx="6.2" ry="11.3" transform="rotate(31.5 777.3 126.2)" fill="none" stroke="#555" stroke-width="1.0" />
<ellipse cx="780.2" cy="128" rx="6.2" ry="11.3" transform="rotate(31.5 780.2 128)" fill="none" stroke="#555" stroke-width="1.0" />
<ellipse cx="783.2" cy="129.7" rx="6.2" ry="11.3" transform="rotate(31.5 783.2 129.7)" fill="none" stroke="#555" stroke-width="1.0" />
<ellipse cx="786.1" cy="131.5" rx="6.2" ry="11.3" transform="rotate(31.5 786.1 131.5)" fill="none" stroke="#555" stroke-width="1.0" />
<ellipse cx="789.1" cy="133.3" rx="6.2" ry="11.3" transform="rotate(31.5 789.1 133.3)" fill="none" stroke="#555" stroke-width="1.0" />
<ellipse cx="792" cy="135.1" rx="6.2" ry="11.3" transform="rotate(31.5 792 135.1)" fill="none" stroke="#555" stroke-width="1.0" />
<ellipse cx="793" cy="135.8" rx="6.2" ry="11.3" transform="rotate(31.5 793 135.8)" fill="none" stroke="#444" stroke-width="1.0" />
<ellipse cx="793" cy="135.8" rx="3.9" ry="7" transform="rotate(31.5 793 135.8)" fill="none" stroke="#555" stroke-width="0.9" />
<ellipse cx="817.5" cy="150.7" rx="11.2" ry="14" transform="rotate(31.5 817.5 150.7)" fill="none" stroke="#000" stroke-width="2.4" />
<ellipse cx="843.5" cy="166.7" rx="10.1" ry="14" transform="rotate(31.5 843.5 166.7)" fill="#fff" stroke="#000" stroke-width="1.8" />
<polygon points="836.2,178.6 841.7,182 856.3,158.1 850.8,154.7" fill="#fff" stroke="none" stroke-width="0" />
<line x1="836.2" y1="178.6" x2="841.7" y2="182" stroke="#000" stroke-width="1.2" />
<line x1="850.8" y1="154.7" x2="856.3" y2="158.1" stroke="#000" stroke-width="1.2" />
<ellipse cx="849" cy="170" rx="10.1" ry="14" transform="rotate(31.5 849 170)" fill="#fff" stroke="#000" stroke-width="1.2" />
<polygon points="868.8,172.5 860.7,186.3 845.9,186.9 839.2,173.7 847.3,159.9 862.1,159.3" fill="#fff" stroke="#000" stroke-width="1.2" />
<polygon points="868.8,172.5 860.7,186.3 865.7,189.3 873.8,175.6" fill="#fff" stroke="#000" stroke-width="1.2" />
<polygon points="860.7,186.3 845.9,186.9 850.9,189.9 865.7,189.3" fill="#fff" stroke="#000" stroke-width="1.2" />
<polygon points="845.9,186.9 839.2,173.7 844.2,176.7 850.9,189.9" fill="#fff" stroke="#000" stroke-width="1.2" />
<polygon points="839.2,173.7 847.3,159.9 852.3,163 844.2,176.7" fill="#fff" stroke="#000" stroke-width="1.2" />
<polygon points="847.3,159.9 862.1,159.3 867.1,162.4 852.3,163" fill="#fff" stroke="#000" stroke-width="1.2" />
<polygon points="862.1,159.3 868.8,172.5 873.8,175.6 867.1,162.4" fill="#fff" stroke="#000" stroke-width="1.2" />
<polygon points="873.8,175.6 865.7,189.3 850.9,189.9 844.2,176.7 852.3,163 867.1,162.4" fill="#fff" stroke="#000" stroke-width="1.2" />
<ellipse cx="859" cy="176.1" rx="7.6" ry="9.5" transform="rotate(31.5 859 176.1)" fill="none" stroke="#000" stroke-width="1.1" />
<ellipse cx="859.5" cy="176.5" rx="4.8" ry="6" transform="rotate(31.5 859.5 176.5)" fill="none" stroke="#555" stroke-width="0.9" />
<ellipse cx="860" cy="176.8" rx="1.6" ry="2" transform="rotate(31.5 860 176.8)" fill="none" stroke="#000" stroke-width="0.8" />
<ellipse cx="879.8" cy="190" rx="4.9" ry="6.3" transform="rotate(31.5 879.8 190)" fill="none" stroke="#000" stroke-width="2.3" />
<ellipse cx="890" cy="195.1" rx="3.3" ry="4.6" transform="rotate(31.5 890 195.1)" fill="#fff" stroke="#000" stroke-width="1.1" />
<polygon points="887.6,199 892.6,202.1 897.4,194.3 892.4,191.2" fill="#fff" stroke="none" stroke-width="0" />
<line x1="887.6" y1="199" x2="892.6" y2="202.1" stroke="#000" stroke-width="1.1" />
<line x1="892.4" y1="191.2" x2="897.4" y2="194.3" stroke="#000" stroke-width="1.1" />
<ellipse cx="895" cy="198.2" rx="3.3" ry="4.6" transform="rotate(31.5 895 198.2)" fill="#fff" stroke="#000" stroke-width="1.1" />
<polygon points="903.3,198.3 899.1,205.4 891.8,205.8 888.7,199.3 892.9,192.2 900.2,191.7" fill="#fff" stroke="#000" stroke-width="1.1" />
<polygon points="903.3,198.3 899.1,205.4 906.1,209.6 910.3,202.6" fill="#fff" stroke="#000" stroke-width="1.1" />
<polygon points="899.1,205.4 891.8,205.8 898.8,210.1 906.1,209.6" fill="#fff" stroke="#000" stroke-width="1.1" />
<polygon points="891.8,205.8 888.7,199.3 895.7,203.6 898.8,210.1" fill="#fff" stroke="#000" stroke-width="1.1" />
<polygon points="888.7,199.3 892.9,192.2 899.9,196.5 895.7,203.6" fill="#fff" stroke="#000" stroke-width="1.1" />
<polygon points="892.9,192.2 900.2,191.7 907.2,196 899.9,196.5" fill="#fff" stroke="#000" stroke-width="1.1" />
<polygon points="900.2,191.7 903.3,198.3 910.3,202.6 907.2,196" fill="#fff" stroke="#000" stroke-width="1.1" />
<polygon points="910.3,202.6 906.1,209.6 898.8,210.1 895.7,203.6 899.9,196.5 907.2,196" fill="#fff" stroke="#000" stroke-width="1.1" />
<ellipse cx="903" cy="203.1" rx="4.2" ry="5" transform="rotate(31.5 903 203.1)" fill="none" stroke="#666" stroke-width="0.7" />
<ellipse cx="727.5" cy="182.1" rx="5.9" ry="8.2" transform="rotate(31.3 727.5 182.1)" fill="#fff" stroke="#000" stroke-width="1.1" />
<polygon points="723.2,189.1 726.7,191.2 735.3,177.2 731.8,175.1" fill="#fff" stroke="none" stroke-width="0" />
<line x1="723.2" y1="189.1" x2="726.7" y2="191.2" stroke="#000" stroke-width="1.1" />
<line x1="731.8" y1="175.1" x2="735.3" y2="177.2" stroke="#000" stroke-width="1.1" />
<ellipse cx="731" cy="184.2" rx="5.9" ry="8.2" transform="rotate(31.3 731 184.2)" fill="#fff" stroke="#000" stroke-width="1.1" />
<ellipse cx="731" cy="184.2" rx="2.5" ry="3.5" transform="rotate(31.3 731 184.2)" fill="none" stroke="#555" stroke-width="0.8" />
<ellipse cx="731" cy="184.2" rx="2.9" ry="4" transform="rotate(31.3 731 184.2)" fill="#fff" stroke="#000" stroke-width="1.0" />
<polygon points="728.9,187.6 741.9,195.5 746.1,188.7 733.1,180.8" fill="#fff" stroke="none" stroke-width="0" />
<line x1="728.9" y1="187.6" x2="741.9" y2="195.5" stroke="#000" stroke-width="1.0" />
<line x1="733.1" y1="180.8" x2="746.1" y2="188.7" stroke="#000" stroke-width="1.0" />
<ellipse cx="744" cy="192.1" rx="2.9" ry="4" transform="rotate(31.3 744 192.1)" fill="#fff" stroke="#000" stroke-width="1.0" />
<ellipse cx="746.5" cy="193.6" rx="1.6" ry="3.1" transform="rotate(31.3 746.5 193.6)" fill="none" stroke="#222" stroke-width="1.1" />
<ellipse cx="748.6" cy="194.9" rx="1.6" ry="3.1" transform="rotate(31.3 748.6 194.9)" fill="none" stroke="#222" stroke-width="1.1" />
<ellipse cx="750.8" cy="196.3" rx="1.6" ry="3.1" transform="rotate(31.3 750.8 196.3)" fill="none" stroke="#222" stroke-width="1.1" />
<ellipse cx="752.9" cy="197.6" rx="1.6" ry="3.1" transform="rotate(31.3 752.9 197.6)" fill="none" stroke="#222" stroke-width="1.1" />
<ellipse cx="755.1" cy="198.9" rx="1.6" ry="3.1" transform="rotate(31.3 755.1 198.9)" fill="none" stroke="#222" stroke-width="1.1" />
<ellipse cx="757.2" cy="200.2" rx="1.6" ry="3.1" transform="rotate(31.3 757.2 200.2)" fill="none" stroke="#222" stroke-width="1.1" />
<ellipse cx="759.4" cy="201.5" rx="1.6" ry="3.1" transform="rotate(31.3 759.4 201.5)" fill="none" stroke="#222" stroke-width="1.1" />
<ellipse cx="761.5" cy="202.8" rx="1.6" ry="3.1" transform="rotate(31.3 761.5 202.8)" fill="none" stroke="#222" stroke-width="1.1" />
<ellipse cx="771.6" cy="208.9" rx="8.7" ry="10.9" transform="rotate(31.3 771.6 208.9)" fill="none" stroke="#000" stroke-width="2.3" />
<ellipse cx="793.1" cy="222" rx="8.6" ry="10.7" transform="rotate(31.3 793.1 222)" fill="#fff" stroke="#000" stroke-width="1.6" />
<ellipse cx="793.1" cy="222" rx="6.6" ry="8.3" transform="rotate(31.3 793.1 222)" fill="none" stroke="#000" stroke-width="1.2800000000000002" />
<ellipse cx="812.5" cy="233.8" rx="7.3" ry="10.2" transform="rotate(31.3 812.5 233.8)" fill="#fff" stroke="#000" stroke-width="1.1" />
<polygon points="807.2,242.5 818.7,249.6 829.3,232.1 817.8,225.1" fill="#fff" stroke="none" stroke-width="0" />
<line x1="807.2" y1="242.5" x2="818.7" y2="249.6" stroke="#000" stroke-width="1.1" />
<line x1="817.8" y1="225.1" x2="829.3" y2="232.1" stroke="#000" stroke-width="1.1" />
<ellipse cx="824" cy="240.8" rx="7.3" ry="10.2" transform="rotate(31.3 824 240.8)" fill="#fff" stroke="#000" stroke-width="1.1" />
<line x1="810.7" y1="244.7" x2="821.3" y2="227.3" stroke="#555" stroke-width="0.7" />
<line x1="813.7" y1="246.5" x2="824.3" y2="229.1" stroke="#555" stroke-width="0.7" />
<ellipse cx="824" cy="240.8" rx="9.5" ry="13.2" transform="rotate(31.3 824 240.8)" fill="#fff" stroke="#000" stroke-width="1.7" />
<polygon points="817.1,252.1 827.8,258.6 841.6,236.1 830.9,229.6" fill="#fff" stroke="none" stroke-width="0" />
<line x1="817.1" y1="252.1" x2="827.8" y2="258.6" stroke="#000" stroke-width="1.3" />
<line x1="830.9" y1="229.6" x2="841.6" y2="236.1" stroke="#000" stroke-width="1.3" />
<ellipse cx="834.7" cy="247.4" rx="9.5" ry="13.2" transform="rotate(31.3 834.7 247.4)" fill="#fff" stroke="#000" stroke-width="1.3" />
<ellipse cx="834.7" cy="247.4" rx="7.4" ry="10.3" transform="rotate(31.3 834.7 247.4)" fill="none" stroke="#666" stroke-width="0.7" />
<polygon points="838.8,247.7 837,251.3 833.4,251.3 831.6,247.7 833.4,244 837,244" fill="#fff" stroke="#000" stroke-width="0.9" />
<ellipse cx="745.1" cy="231.8" rx="8.9" ry="11.1" transform="rotate(32 745.1 231.8)" fill="none" stroke="#000" stroke-width="2.3" />
<ellipse cx="764.3" cy="242.5" rx="8.6" ry="10.7" transform="rotate(32 764.3 242.5)" fill="#fff" stroke="#000" stroke-width="1.6" />
<ellipse cx="764.3" cy="242.5" rx="6.6" ry="8.3" transform="rotate(32 764.3 242.5)" fill="none" stroke="#000" stroke-width="1.2800000000000002" />
<ellipse cx="781" cy="254.2" rx="7.3" ry="10.2" transform="rotate(32 781 254.2)" fill="#fff" stroke="#000" stroke-width="1.1" />
<polygon points="775.6,262.9 787.1,270.1 797.9,252.8 786.4,245.6" fill="#fff" stroke="none" stroke-width="0" />
<line x1="775.6" y1="262.9" x2="787.1" y2="270.1" stroke="#000" stroke-width="1.1" />
<line x1="786.4" y1="245.6" x2="797.9" y2="252.8" stroke="#000" stroke-width="1.1" />
<ellipse cx="792.5" cy="261.4" rx="7.3" ry="10.2" transform="rotate(32 792.5 261.4)" fill="#fff" stroke="#000" stroke-width="1.1" />
<line x1="779.6" y1="265.4" x2="790.4" y2="248.1" stroke="#555" stroke-width="0.7" />
<line x1="782.6" y1="267.3" x2="793.4" y2="250" stroke="#555" stroke-width="0.7" />
<ellipse cx="792.5" cy="261.4" rx="9.6" ry="13.3" transform="rotate(32 792.5 261.4)" fill="#fff" stroke="#000" stroke-width="1.7" />
<polygon points="785.5,272.7 796,279.2 810,256.7 799.5,250.1" fill="#fff" stroke="none" stroke-width="0" />
<line x1="785.5" y1="272.7" x2="796" y2="279.2" stroke="#000" stroke-width="1.3" />
<line x1="799.5" y1="250.1" x2="810" y2="256.7" stroke="#000" stroke-width="1.3" />
<ellipse cx="803" cy="268" rx="9.6" ry="13.3" transform="rotate(32 803 268)" fill="#fff" stroke="#000" stroke-width="1.3" />
<ellipse cx="803" cy="268" rx="7.5" ry="10.4" transform="rotate(32 803 268)" fill="none" stroke="#666" stroke-width="0.7" />
<polygon points="807.1,268.3 805.3,271.9 801.7,271.9 799.9,268.3 801.7,264.6 805.3,264.6" fill="#fff" stroke="#000" stroke-width="0.9" />
<ellipse cx="752" cy="320.5" rx="5.9" ry="8.2" transform="rotate(32.2 752 320.5)" fill="#fff" stroke="#000" stroke-width="1.1" />
<polygon points="747.6,327.4 751.1,329.6 759.9,315.7 756.4,313.5" fill="#fff" stroke="none" stroke-width="0" />
<line x1="747.6" y1="327.4" x2="751.1" y2="329.6" stroke="#000" stroke-width="1.1" />
<line x1="756.4" y1="313.5" x2="759.9" y2="315.7" stroke="#000" stroke-width="1.1" />
<ellipse cx="755.5" cy="322.7" rx="5.9" ry="8.2" transform="rotate(32.2 755.5 322.7)" fill="#fff" stroke="#000" stroke-width="1.1" />
<ellipse cx="755.5" cy="322.7" rx="3" ry="4.2" transform="rotate(32.2 755.5 322.7)" fill="#fff" stroke="#000" stroke-width="1.0" />
<polygon points="753.3,326.2 764.8,333.5 769.2,326.4 757.7,319.1" fill="#fff" stroke="none" stroke-width="0" />
<line x1="753.3" y1="326.2" x2="764.8" y2="333.5" stroke="#000" stroke-width="1.0" />
<line x1="757.7" y1="319.1" x2="769.2" y2="326.4" stroke="#000" stroke-width="1.0" />
<ellipse cx="767" cy="329.9" rx="3" ry="4.2" transform="rotate(32.2 767 329.9)" fill="#fff" stroke="#000" stroke-width="1.0" />
<ellipse cx="770" cy="331.8" rx="1.6" ry="3.1" transform="rotate(32.2 770 331.8)" fill="none" stroke="#222" stroke-width="1.1" />
<ellipse cx="772.5" cy="333.4" rx="1.6" ry="3.1" transform="rotate(32.2 772.5 333.4)" fill="none" stroke="#222" stroke-width="1.1" />
<ellipse cx="775" cy="335" rx="1.6" ry="3.1" transform="rotate(32.2 775 335)" fill="none" stroke="#222" stroke-width="1.1" />
<ellipse cx="777.5" cy="336.5" rx="1.6" ry="3.1" transform="rotate(32.2 777.5 336.5)" fill="none" stroke="#222" stroke-width="1.1" />
<ellipse cx="780" cy="338.1" rx="1.6" ry="3.1" transform="rotate(32.2 780 338.1)" fill="none" stroke="#222" stroke-width="1.1" />
<ellipse cx="782.5" cy="339.7" rx="1.6" ry="3.1" transform="rotate(32.2 782.5 339.7)" fill="none" stroke="#222" stroke-width="1.1" />
<ellipse cx="785" cy="341.2" rx="1.6" ry="3.1" transform="rotate(32.2 785 341.2)" fill="none" stroke="#222" stroke-width="1.1" />
<ellipse cx="799" cy="348.2" rx="8.6" ry="10.8" transform="rotate(32.2 799 348.2)" fill="none" stroke="#000" stroke-width="2.3" />
<ellipse cx="819.8" cy="361.5" rx="8.6" ry="10.7" transform="rotate(32.2 819.8 361.5)" fill="#fff" stroke="#000" stroke-width="1.6" />
<ellipse cx="819.8" cy="361.5" rx="6.6" ry="8.3" transform="rotate(32.2 819.8 361.5)" fill="none" stroke="#000" stroke-width="1.2800000000000002" />
<ellipse cx="840" cy="375.8" rx="7.2" ry="10" transform="rotate(32.2 840 375.8)" fill="#fff" stroke="#000" stroke-width="1.1" />
<polygon points="834.7,384.3 842.7,389.3 853.3,372.4 845.3,367.4" fill="#fff" stroke="none" stroke-width="0" />
<line x1="834.7" y1="384.3" x2="842.7" y2="389.3" stroke="#000" stroke-width="1.1" />
<line x1="845.3" y1="367.4" x2="853.3" y2="372.4" stroke="#000" stroke-width="1.1" />
<ellipse cx="848" cy="380.9" rx="7.2" ry="10" transform="rotate(32.2 848 380.9)" fill="#fff" stroke="#000" stroke-width="1.1" />
<line x1="838.2" y1="386.5" x2="848.8" y2="369.6" stroke="#555" stroke-width="0.7" />
<ellipse cx="848" cy="380.9" rx="9.7" ry="13.5" transform="rotate(32.2 848 380.9)" fill="#fff" stroke="#000" stroke-width="1.7" />
<polygon points="840.8,392.3 850.6,398.5 865,375.6 855.2,369.4" fill="#fff" stroke="none" stroke-width="0" />
<line x1="840.8" y1="392.3" x2="850.6" y2="398.5" stroke="#000" stroke-width="1.3" />
<line x1="855.2" y1="369.4" x2="865" y2="375.6" stroke="#000" stroke-width="1.3" />
<ellipse cx="857.8" cy="387" rx="9.7" ry="13.5" transform="rotate(32.2 857.8 387)" fill="#fff" stroke="#000" stroke-width="1.3" />
<ellipse cx="857.8" cy="387" rx="7.6" ry="10.5" transform="rotate(32.2 857.8 387)" fill="none" stroke="#666" stroke-width="0.7" />
<polygon points="862,387.3 860.1,391.1 856.5,391.1 854.6,387.3 856.5,383.6 860.1,383.6" fill="#fff" stroke="#000" stroke-width="0.9" />
<line x1="782.4" y1="423.4" x2="861" y2="471" stroke="#000" stroke-width="1.1" />
<ellipse cx="766" cy="414.5" rx="5" ry="8.3" transform="rotate(28.5 766 414.5)" fill="#fff" stroke="#000" stroke-width="1.2" />
<polygon points="762,421.8 778.4,430.7 786.4,416.1 770,407.2" fill="#fff" stroke="none" stroke-width="0" />
<line x1="762" y1="421.8" x2="778.4" y2="430.7" stroke="#000" stroke-width="1.2" />
<line x1="770" y1="407.2" x2="786.4" y2="416.1" stroke="#000" stroke-width="1.2" />
<ellipse cx="782.4" cy="423.4" rx="5" ry="8.3" transform="rotate(28.5 782.4 423.4)" fill="#fff" stroke="#000" stroke-width="1.2" />
<ellipse cx="761.5" cy="412.5" rx="4.7" ry="9.3" transform="rotate(24.2 761.5 412.5)" fill="#fff" stroke="#000" stroke-width="1.7" />
<polygon points="757.7,421 761.7,422.8 769.3,405.8 765.3,404" fill="#fff" stroke="none" stroke-width="0" />
<line x1="757.7" y1="421" x2="761.7" y2="422.8" stroke="#000" stroke-width="1.3" />
<line x1="765.3" y1="404" x2="769.3" y2="405.8" stroke="#000" stroke-width="1.3" />
<ellipse cx="765.5" cy="414.3" rx="4.7" ry="9.3" transform="rotate(24.2 765.5 414.3)" fill="#fff" stroke="#000" stroke-width="1.3" />
<ellipse cx="763.5" cy="413.4" rx="4.7" ry="9.3" transform="rotate(31 763.5 413.4)" fill="none" stroke="#333" stroke-width="0.9" />
<ellipse cx="782.4" cy="423.4" rx="3.4" ry="5.6" transform="rotate(31 782.4 423.4)" fill="none" stroke="#000" stroke-width="1.0" />
<ellipse cx="790.5" cy="428.4" rx="3.7" ry="5.2" transform="rotate(31 790.5 428.4)" fill="#fff" stroke="#000" stroke-width="1.1" />
<polygon points="787.8,432.9 790.8,434.7 796.2,425.7 793.2,423.9" fill="#fff" stroke="none" stroke-width="0" />
<line x1="787.8" y1="432.9" x2="790.8" y2="434.7" stroke="#000" stroke-width="1.1" />
<line x1="793.2" y1="423.9" x2="796.2" y2="425.7" stroke="#000" stroke-width="1.1" />
<ellipse cx="793.5" cy="430.2" rx="3.7" ry="5.2" transform="rotate(31 793.5 430.2)" fill="#fff" stroke="#000" stroke-width="1.1" />
<ellipse cx="793.5" cy="430.2" rx="4.2" ry="5.9" transform="rotate(31 793.5 430.2)" fill="#fff" stroke="#000" stroke-width="1.1" />
<polygon points="790.5,435.3 799,440.4 805,430.2 796.5,425.1" fill="#fff" stroke="none" stroke-width="0" />
<line x1="790.5" y1="435.3" x2="799" y2="440.4" stroke="#000" stroke-width="1.1" />
<line x1="796.5" y1="425.1" x2="805" y2="430.2" stroke="#000" stroke-width="1.1" />
<ellipse cx="802" cy="435.3" rx="4.2" ry="5.9" transform="rotate(31 802 435.3)" fill="#fff" stroke="#000" stroke-width="1.1" />
<ellipse cx="802" cy="435.3" rx="4.2" ry="5.9" transform="rotate(31 802 435.3)" fill="#fff" stroke="#000" stroke-width="1.1" />
<polygon points="799,440.4 806.1,443.1 810.9,435.3 805,430.2" fill="#fff" stroke="none" stroke-width="0" />
<line x1="799" y1="440.4" x2="806.1" y2="443.1" stroke="#000" stroke-width="1.1" />
<line x1="805" y1="430.2" x2="810.9" y2="435.3" stroke="#000" stroke-width="1.1" />
<ellipse cx="808.5" cy="439.2" rx="3.3" ry="4.6" transform="rotate(31 808.5 439.2)" fill="#fff" stroke="#000" stroke-width="1.1" />
<ellipse cx="808.5" cy="439.2" rx="1.8" ry="2.5" transform="rotate(31 808.5 439.2)" fill="none" stroke="#000" stroke-width="0.9" />
<ellipse cx="813.5" cy="442.2" rx="3" ry="6" transform="rotate(31 813.5 442.2)" fill="none" stroke="#222" stroke-width="1.3" />
<ellipse cx="815.8" cy="443.6" rx="3" ry="6" transform="rotate(31 815.8 443.6)" fill="none" stroke="#222" stroke-width="1.3" />
<ellipse cx="818.1" cy="445" rx="3" ry="6" transform="rotate(31 818.1 445)" fill="none" stroke="#222" stroke-width="1.3" />
<ellipse cx="820.4" cy="446.3" rx="3" ry="6" transform="rotate(31 820.4 446.3)" fill="none" stroke="#222" stroke-width="1.3" />
<ellipse cx="822.7" cy="447.7" rx="3" ry="6" transform="rotate(31 822.7 447.7)" fill="none" stroke="#222" stroke-width="1.3" />
<ellipse cx="825" cy="449.1" rx="3" ry="6" transform="rotate(31 825 449.1)" fill="none" stroke="#222" stroke-width="1.3" />
<ellipse cx="831" cy="452.7" rx="8.6" ry="12" transform="rotate(31 831 452.7)" fill="#fff" stroke="#000" stroke-width="1.2" />
<polygon points="824.8,463 845.1,475.2 857.5,454.6 837.2,442.4" fill="#fff" stroke="none" stroke-width="0" />
<line x1="824.8" y1="463" x2="845.1" y2="475.2" stroke="#000" stroke-width="1.2" />
<line x1="837.2" y1="442.4" x2="857.5" y2="454.6" stroke="#000" stroke-width="1.2" />
<ellipse cx="851.3" cy="464.9" rx="8.6" ry="12" transform="rotate(31 851.3 464.9)" fill="#fff" stroke="#000" stroke-width="1.2" />
<path d="M831.8,467.2 A8.6,12 31 0 1 844.2,446.6" fill="none" stroke="#333" stroke-width="0.9" />
<path d="M834.3,468.7 A8.6,12 31 0 1 846.7,448.1" fill="none" stroke="#333" stroke-width="0.9" />
<path d="M836.8,470.2 A8.6,12 31 0 1 849.2,449.6" fill="none" stroke="#333" stroke-width="0.9" />
<path d="M839.3,471.7 A8.6,12 31 0 1 851.7,451.1" fill="none" stroke="#333" stroke-width="0.9" />
<path d="M841.8,473.2 A8.6,12 31 0 1 854.2,452.6" fill="none" stroke="#333" stroke-width="0.9" />
<ellipse cx="851.3" cy="464.9" rx="8.6" ry="12" transform="rotate(31 851.3 464.9)" fill="#fff" stroke="#000" stroke-width="1.2" />
<ellipse cx="851.6" cy="465.1" rx="2.9" ry="4" transform="rotate(31 851.6 465.1)" fill="none" stroke="#000" stroke-width="0.9" />
<ellipse cx="666" cy="353.3" rx="6.2" ry="8.6" transform="rotate(30.8 666 353.3)" fill="#fff" stroke="#000" stroke-width="1.8" />
<polygon points="661.6,360.7 668.6,364.8 677.4,350.1 670.4,345.9" fill="#fff" stroke="none" stroke-width="0" />
<line x1="661.6" y1="360.7" x2="668.6" y2="364.8" stroke="#000" stroke-width="1.2" />
<line x1="670.4" y1="345.9" x2="677.4" y2="350.1" stroke="#000" stroke-width="1.2" />
<ellipse cx="673" cy="357.4" rx="6.2" ry="8.6" transform="rotate(30.8 673 357.4)" fill="#fff" stroke="#000" stroke-width="1.2" />
<ellipse cx="669" cy="355.1" rx="6.2" ry="8.6" transform="rotate(30.8 669 355.1)" fill="none" stroke="#000" stroke-width="1.4" />
<ellipse cx="673" cy="357.4" rx="6.8" ry="9.4" transform="rotate(30.8 673 357.4)" fill="#fff" stroke="#000" stroke-width="1.1" />
<polygon points="668.2,365.5 681.2,373.3 690.8,357.1 677.8,349.4" fill="#fff" stroke="none" stroke-width="0" />
<line x1="668.2" y1="365.5" x2="681.2" y2="373.3" stroke="#000" stroke-width="1.1" />
<line x1="677.8" y1="349.4" x2="690.8" y2="357.1" stroke="#000" stroke-width="1.1" />
<ellipse cx="686" cy="365.2" rx="6.8" ry="9.4" transform="rotate(30.8 686 365.2)" fill="#fff" stroke="#000" stroke-width="1.1" />
<line x1="672.2" y1="367.9" x2="681.8" y2="351.8" stroke="#555" stroke-width="0.7" />
<line x1="675.2" y1="369.7" x2="684.8" y2="353.6" stroke="#555" stroke-width="0.7" />
<ellipse cx="686" cy="365.2" rx="9.8" ry="13.6" transform="rotate(30.8 686 365.2)" fill="#fff" stroke="#000" stroke-width="1.7" />
<polygon points="679,376.9 688.7,382.7 702.7,359.3 693,353.5" fill="#fff" stroke="none" stroke-width="0" />
<line x1="679" y1="376.9" x2="688.7" y2="382.7" stroke="#000" stroke-width="1.3" />
<line x1="693" y1="353.5" x2="702.7" y2="359.3" stroke="#000" stroke-width="1.3" />
<ellipse cx="695.7" cy="371" rx="9.8" ry="13.6" transform="rotate(30.8 695.7 371)" fill="#fff" stroke="#000" stroke-width="1.3" />
<ellipse cx="695.7" cy="371" rx="7.6" ry="10.6" transform="rotate(30.8 695.7 371)" fill="none" stroke="#666" stroke-width="0.7" />
<polygon points="699.9,371.3 698,375 694.4,375 692.5,371.3 694.4,367.6 698,367.6" fill="#fff" stroke="#000" stroke-width="0.9" />
<ellipse cx="616.8" cy="383" rx="6.6" ry="8.8" transform="rotate(31.4 616.8 383)" fill="none" stroke="#000" stroke-width="2.2" />
<ellipse cx="633.5" cy="392.7" rx="6" ry="8.4" transform="rotate(31.4 633.5 392.7)" fill="#fff" stroke="#000" stroke-width="1.1" />
<polygon points="629.1,399.9 632.6,402 641.4,387.6 637.9,385.5" fill="#fff" stroke="none" stroke-width="0" />
<line x1="629.1" y1="399.9" x2="632.6" y2="402" stroke="#000" stroke-width="1.1" />
<line x1="637.9" y1="385.5" x2="641.4" y2="387.6" stroke="#000" stroke-width="1.1" />
<ellipse cx="637" cy="394.8" rx="6" ry="8.4" transform="rotate(31.4 637 394.8)" fill="#fff" stroke="#000" stroke-width="1.1" />
<ellipse cx="637" cy="394.8" rx="7.2" ry="10" transform="rotate(31.4 637 394.8)" fill="#fff" stroke="#000" stroke-width="1.7" />
<polygon points="631.8,403.4 637,406.5 647.4,389.5 642.2,386.3" fill="#fff" stroke="none" stroke-width="0" />
<line x1="631.8" y1="403.4" x2="637" y2="406.5" stroke="#000" stroke-width="1.3" />
<line x1="642.2" y1="386.3" x2="647.4" y2="389.5" stroke="#000" stroke-width="1.3" />
<ellipse cx="642.2" cy="398" rx="7.2" ry="10" transform="rotate(31.4 642.2 398)" fill="#fff" stroke="#000" stroke-width="1.3" />
<ellipse cx="642.2" cy="398" rx="5.6" ry="7.8" transform="rotate(31.4 642.2 398)" fill="none" stroke="#666" stroke-width="0.7" />
<polygon points="645.7,398.3 644.2,401.3 641.2,401.3 639.7,398.3 641.2,395.3 644.2,395.3" fill="#fff" stroke="#000" stroke-width="0.9" />
<ellipse cx="657.8" cy="137.1" rx="6.6" ry="8.8" transform="rotate(31 657.8 137.1)" fill="none" stroke="#000" stroke-width="2.3" />
<ellipse cx="680.5" cy="151.6" rx="6" ry="8.4" transform="rotate(31 680.5 151.6)" fill="#fff" stroke="#000" stroke-width="1.1" />
<polygon points="676.2,158.8 679.7,160.9 688.3,146.5 684.8,144.4" fill="#fff" stroke="none" stroke-width="0" />
<line x1="676.2" y1="158.8" x2="679.7" y2="160.9" stroke="#000" stroke-width="1.1" />
<line x1="684.8" y1="144.4" x2="688.3" y2="146.5" stroke="#000" stroke-width="1.1" />
<ellipse cx="684" cy="153.7" rx="6" ry="8.4" transform="rotate(31 684 153.7)" fill="#fff" stroke="#000" stroke-width="1.1" />
<ellipse cx="684" cy="153.7" rx="7.2" ry="10" transform="rotate(31 684 153.7)" fill="#fff" stroke="#000" stroke-width="1.7" />
<polygon points="678.9,162.3 683.5,165 693.7,147.9 689.1,145.1" fill="#fff" stroke="none" stroke-width="0" />
<line x1="678.9" y1="162.3" x2="683.5" y2="165" stroke="#000" stroke-width="1.3" />
<line x1="689.1" y1="145.1" x2="693.7" y2="147.9" stroke="#000" stroke-width="1.3" />
<ellipse cx="688.6" cy="156.4" rx="7.2" ry="10" transform="rotate(31 688.6 156.4)" fill="#fff" stroke="#000" stroke-width="1.3" />
<ellipse cx="688.6" cy="156.4" rx="5.6" ry="7.8" transform="rotate(31 688.6 156.4)" fill="none" stroke="#666" stroke-width="0.7" />
<polygon points="692.1,156.7 690.6,159.8 687.6,159.8 686.1,156.7 687.6,153.7 690.6,153.7" fill="#fff" stroke="#000" stroke-width="0.9" />
<ellipse cx="426.6" cy="278.5" rx="6.6" ry="9.1" transform="rotate(-18.1 426.6 278.5)" fill="none" stroke="#000" stroke-width="2.2" />
<ellipse cx="408.5" cy="285.2" rx="6" ry="8.4" transform="rotate(161.9 408.5 285.2)" fill="#fff" stroke="#000" stroke-width="1.1" />
<polygon points="405.9,277.2 400.9,278.8 406.1,294.8 411.1,293.2" fill="#fff" stroke="none" stroke-width="0" />
<line x1="405.9" y1="277.2" x2="400.9" y2="278.8" stroke="#000" stroke-width="1.1" />
<line x1="411.1" y1="293.2" x2="406.1" y2="294.8" stroke="#000" stroke-width="1.1" />
<ellipse cx="403.5" cy="286.8" rx="6" ry="8.4" transform="rotate(161.9 403.5 286.8)" fill="#fff" stroke="#000" stroke-width="1.1" />
<ellipse cx="403.5" cy="286.8" rx="7.3" ry="10.2" transform="rotate(161.9 403.5 286.8)" fill="#fff" stroke="#000" stroke-width="1.7" />
<polygon points="400.3,277.1 396.1,278.5 402.5,297.9 406.7,296.5" fill="#fff" stroke="none" stroke-width="0" />
<line x1="400.3" y1="277.1" x2="396.1" y2="278.5" stroke="#000" stroke-width="1.3" />
<line x1="406.7" y1="296.5" x2="402.5" y2="297.9" stroke="#000" stroke-width="1.3" />
<ellipse cx="399.3" cy="288.2" rx="7.3" ry="10.2" transform="rotate(161.9 399.3 288.2)" fill="#fff" stroke="#000" stroke-width="1.3" />
<ellipse cx="399.3" cy="288.2" rx="5.7" ry="8" transform="rotate(161.9 399.3 288.2)" fill="none" stroke="#666" stroke-width="0.7" />
<polygon points="403,288.5 401.4,291.8 398.2,291.8 396.6,288.5 398.2,285.2 401.4,285.2" fill="#fff" stroke="#000" stroke-width="0.9" />
<ellipse cx="441.6" cy="356.3" rx="9.9" ry="13.8" transform="rotate(-18.5 441.6 356.3)" fill="none" stroke="#000" stroke-width="2.3" />
<ellipse cx="414.5" cy="366.1" rx="9" ry="12.5" transform="rotate(161.5 414.5 366.1)" fill="#fff" stroke="#000" stroke-width="1.1" />
<polygon points="410.5,354.3 405,356.1 413,379.8 418.5,378" fill="#fff" stroke="none" stroke-width="0" />
<line x1="410.5" y1="354.3" x2="405" y2="356.1" stroke="#000" stroke-width="1.1" />
<line x1="418.5" y1="378" x2="413" y2="379.8" stroke="#000" stroke-width="1.1" />
<ellipse cx="409" cy="368" rx="9" ry="12.5" transform="rotate(161.5 409 368)" fill="#fff" stroke="#000" stroke-width="1.1" />
<ellipse cx="409" cy="368" rx="10.3" ry="14.3" transform="rotate(161.5 409 368)" fill="#fff" stroke="#000" stroke-width="1.7" />
<polygon points="404.5,354.4 399.7,356 408.7,383.2 413.5,381.6" fill="#fff" stroke="none" stroke-width="0" />
<line x1="404.5" y1="354.4" x2="399.7" y2="356" stroke="#000" stroke-width="1.3" />
<line x1="413.5" y1="381.6" x2="408.7" y2="383.2" stroke="#000" stroke-width="1.3" />
<ellipse cx="404.2" cy="369.6" rx="10.3" ry="14.3" transform="rotate(161.5 404.2 369.6)" fill="#fff" stroke="#000" stroke-width="1.3" />
<ellipse cx="404.2" cy="369.6" rx="8" ry="11.2" transform="rotate(161.5 404.2 369.6)" fill="none" stroke="#666" stroke-width="0.7" />
<polygon points="408.9,369.9 406.8,374.2 402.6,374.2 400.4,369.9 402.6,365.6 406.8,365.6" fill="#fff" stroke="#000" stroke-width="0.9" />
<path d="M121,388 C124,392 126,394 124,398 C121,402 121,404 121,410 L121,425 C121,428 124,430 123,433 C121,436 121,440 121,446 L121,468" fill="none" stroke="#777" stroke-width="0.8" />
<ellipse cx="140.8" cy="412.6" rx="7.5" ry="9" transform="rotate(-20 140.8 412.6)" fill="none" stroke="#777" stroke-width="0.8" />
<ellipse cx="141.7" cy="452.4" rx="7.5" ry="9" transform="rotate(-20 141.7 452.4)" fill="none" stroke="#777" stroke-width="0.8" />
<ellipse cx="179.7" cy="399.9" rx="10.5" ry="12.5" transform="rotate(25 179.7 399.9)" fill="none" stroke="#777" stroke-width="0.8" stroke-dasharray="2,1"/>
<ellipse cx="179.7" cy="399.9" rx="8" ry="10" transform="rotate(25 179.7 399.9)" fill="none" stroke="#777" stroke-width="0.8" />
<path d="M174.7,404.9 Q176.7,394.9 183.7,392.9" fill="none" stroke="#777" stroke-width="0.8" />
<ellipse cx="180.6" cy="439.7" rx="10.5" ry="12.5" transform="rotate(25 180.6 439.7)" fill="none" stroke="#777" stroke-width="0.8" stroke-dasharray="2,1"/>
<ellipse cx="180.6" cy="439.7" rx="8" ry="10" transform="rotate(25 180.6 439.7)" fill="none" stroke="#777" stroke-width="0.8" />
<path d="M175.6,444.7 Q177.6,434.7 184.6,432.7" fill="none" stroke="#777" stroke-width="0.8" />
<ellipse cx="159.2" cy="392.7" rx="2" ry="2.5" transform="rotate(-20 159.2 392.7)" fill="none" stroke="#777" stroke-width="0.8" />
<ellipse cx="127.2" cy="403.5" rx="1.8" ry="2.2" transform="rotate(-20 127.2 403.5)" fill="none" stroke="#777" stroke-width="0.8" />
<ellipse cx="152.2" cy="398.1" rx="1" ry="1.2" transform="rotate(-20 152.2 398.1)" fill="none" stroke="#777" stroke-width="0.8" />
<ellipse cx="155.2" cy="408" rx="1.2" ry="1.5" transform="rotate(-20 155.2 408)" fill="none" stroke="#777" stroke-width="0.8" />
<ellipse cx="158" cy="420.7" rx="1.8" ry="2.3" transform="rotate(-20 158 420.7)" fill="none" stroke="#777" stroke-width="0.8" />
<ellipse cx="126.3" cy="431.6" rx="1.8" ry="2.3" transform="rotate(-20 126.3 431.6)" fill="none" stroke="#777" stroke-width="0.8" />
<ellipse cx="135.3" cy="428.9" rx="1" ry="1.2" transform="rotate(-20 135.3 428.9)" fill="none" stroke="#777" stroke-width="0.8" />
<ellipse cx="157.4" cy="438.8" rx="1.8" ry="2.3" transform="rotate(-20 157.4 438.8)" fill="none" stroke="#777" stroke-width="0.8" />
<ellipse cx="127.2" cy="448.8" rx="1.8" ry="2.3" transform="rotate(-20 127.2 448.8)" fill="none" stroke="#777" stroke-width="0.8" />
<ellipse cx="157" cy="456" rx="1.8" ry="2.3" transform="rotate(-20 157 456)" fill="none" stroke="#777" stroke-width="0.8" />
<line x1="140.8" y1="414.4" x2="191.4" y2="445.1" stroke="#000" stroke-width="1.1" />
<ellipse cx="193.5" cy="447.3" rx="6.2" ry="8.6" transform="rotate(32 193.5 447.3)" fill="#fff" stroke="#000" stroke-width="1.8" />
<polygon points="188.9,454.6 194.4,458.1 203.6,443.5 198.1,440" fill="#fff" stroke="none" stroke-width="0" />
<line x1="188.9" y1="454.6" x2="194.4" y2="458.1" stroke="#000" stroke-width="1.4" />
<line x1="198.1" y1="440" x2="203.6" y2="443.5" stroke="#000" stroke-width="1.4" />
<ellipse cx="199" cy="450.8" rx="6.2" ry="8.6" transform="rotate(32 199 450.8)" fill="#fff" stroke="#000" stroke-width="1.4" />
<ellipse cx="195.5" cy="448.6" rx="6.2" ry="8.6" transform="rotate(32 195.5 448.6)" fill="none" stroke="#000" stroke-width="1.7" />
<ellipse cx="198" cy="450.1" rx="6.2" ry="8.6" transform="rotate(32 198 450.1)" fill="none" stroke="#000" stroke-width="1.2" />
<ellipse cx="200" cy="451.4" rx="7.1" ry="9.8" transform="rotate(32 200 451.4)" fill="#fff" stroke="#000" stroke-width="1.3" />
<polygon points="194.8,459.7 207.8,467.8 218.2,451.2 205.2,443.1" fill="#fff" stroke="none" stroke-width="0" />
<line x1="194.8" y1="459.7" x2="207.8" y2="467.8" stroke="#000" stroke-width="1.3" />
<line x1="205.2" y1="443.1" x2="218.2" y2="451.2" stroke="#000" stroke-width="1.3" />
<ellipse cx="213" cy="459.5" rx="7.1" ry="9.8" transform="rotate(32 213 459.5)" fill="#fff" stroke="#000" stroke-width="1.3" />
<line x1="210.2" y1="446.2" x2="199.8" y2="462.8" stroke="#444" stroke-width="0.8" />
<ellipse cx="213" cy="459.5" rx="4.9" ry="6.8" transform="rotate(32 213 459.5)" fill="none" stroke="#000" stroke-width="1.0" />
<line x1="213" y1="459.5" x2="238" y2="475" stroke="#000" stroke-width="1.1" />
<ellipse cx="226.5" cy="468" rx="1.9" ry="2.6" transform="rotate(32 226.5 468)" fill="#fff" stroke="#000" stroke-width="1.0" />
<polygon points="225.1,470.2 228.6,472.4 231.4,467.9 227.9,465.8" fill="#fff" stroke="none" stroke-width="0" />
<line x1="225.1" y1="470.2" x2="228.6" y2="472.4" stroke="#000" stroke-width="1.0" />
<line x1="227.9" y1="465.8" x2="231.4" y2="467.9" stroke="#000" stroke-width="1.0" />
<ellipse cx="230" cy="470.1" rx="1.9" ry="2.6" transform="rotate(32 230 470.1)" fill="#fff" stroke="#000" stroke-width="1.0" />
<ellipse cx="245.7" cy="479.5" rx="8" ry="10.3" transform="rotate(32 245.7 479.5)" fill="none" stroke="#000" stroke-width="2.2" />
<ellipse cx="261" cy="487.5" rx="3.5" ry="7" transform="rotate(32.5 261 487.5)" fill="none" stroke="#222" stroke-width="1.2" />
<ellipse cx="263.2" cy="488.9" rx="3.5" ry="7" transform="rotate(32.5 263.2 488.9)" fill="none" stroke="#222" stroke-width="1.2" />
<ellipse cx="265.4" cy="490.3" rx="3.5" ry="7" transform="rotate(32.5 265.4 490.3)" fill="none" stroke="#222" stroke-width="1.2" />
<ellipse cx="267.6" cy="491.7" rx="3.5" ry="7" transform="rotate(32.5 267.6 491.7)" fill="none" stroke="#222" stroke-width="1.2" />
<ellipse cx="269.8" cy="493.1" rx="3.5" ry="7" transform="rotate(32.5 269.8 493.1)" fill="none" stroke="#222" stroke-width="1.2" />
<ellipse cx="272" cy="494.5" rx="3.5" ry="7" transform="rotate(32.5 272 494.5)" fill="none" stroke="#222" stroke-width="1.2" />
<line x1="272" y1="495.5" x2="285" y2="503" stroke="#000" stroke-width="1.0" />
<ellipse cx="281" cy="500.5" rx="6.7" ry="9.3" transform="rotate(31.4 281 500.5)" fill="#fff" stroke="#000" stroke-width="1.8" />
<polygon points="276.2,508.4 285.2,513.9 294.8,498.1 285.8,492.6" fill="#fff" stroke="none" stroke-width="0" />
<line x1="276.2" y1="508.4" x2="285.2" y2="513.9" stroke="#000" stroke-width="1.3" />
<line x1="285.8" y1="492.6" x2="294.8" y2="498.1" stroke="#000" stroke-width="1.3" />
<ellipse cx="290" cy="506" rx="6.7" ry="9.3" transform="rotate(31.4 290 506)" fill="#fff" stroke="#000" stroke-width="1.3" />
<path d="M286.9,493.1 A6.5,9.3 32 0 0 277.1,508.9" fill="none" stroke="#222" stroke-width="1.0" />
<path d="M288.5,494.2 A6.5,9.3 32 0 0 278.7,509.9" fill="none" stroke="#222" stroke-width="1.0" />
<path d="M290.1,495.2 A6.5,9.3 32 0 0 280.4,511.0" fill="none" stroke="#222" stroke-width="1.0" />
<path d="M291.8,496.2 A6.5,9.3 32 0 0 282.0,512.0" fill="none" stroke="#222" stroke-width="1.0" />
<path d="M293.4,497.3 A6.5,9.3 32 0 0 283.6,513.1" fill="none" stroke="#222" stroke-width="1.0" />
<ellipse cx="290" cy="506" rx="6.5" ry="9.3" transform="rotate(32 290 506)" fill="#fff" stroke="#000" stroke-width="1.3" />
<ellipse cx="290.5" cy="506.3" rx="3.8" ry="5.5" transform="rotate(32 290.5 506.3)" fill="none" stroke="#333" stroke-width="0.9" />
<line x1="289" y1="505.5" x2="300" y2="512" stroke="#000" stroke-width="1.0" />
<path d="M299,510.8 L311.7,507.2 C316,505 320,501 323.5,500.9 C326,500.5 327,503 330,501.5 L339.8,496.9 C346,497 351,500 354.3,503.6 C357,506 359,510 359.7,513.5 L361.5,520.8 L360.6,533.5 C359,536 358,537 356.1,538.5 L320.8,554.3 C317,556 315,557 311.7,556.1 L299,548 Z" fill="#fff" stroke="#000" stroke-width="1.6" />
<path d="M314.4,548.9 L354.3,535.3" fill="none" stroke="#000" stroke-width="1.0" />
<ellipse cx="309.9" cy="535.3" rx="6" ry="7.5" transform="rotate(20 309.9 535.3)" fill="#fff" stroke="#000" stroke-width="1.1" />
<ellipse cx="310.4" cy="535.8" rx="3.6" ry="4.5" transform="rotate(20 310.4 535.8)" fill="none" stroke="#444" stroke-width="0.8" />
<ellipse cx="319.9" cy="522.6" rx="5" ry="7" transform="rotate(20 319.9 522.6)" fill="#fff" stroke="#000" stroke-width="1.1" />
<ellipse cx="320.4" cy="523.1" rx="3" ry="4.2" transform="rotate(20 320.4 523.1)" fill="none" stroke="#444" stroke-width="0.8" />
<ellipse cx="352.5" cy="511.7" rx="4.5" ry="6.5" transform="rotate(20 352.5 511.7)" fill="#fff" stroke="#000" stroke-width="1.1" />
<ellipse cx="353" cy="512.2" rx="2.7" ry="3.9" transform="rotate(20 353 512.2)" fill="none" stroke="#444" stroke-width="0.8" />
<ellipse cx="318" cy="551.6" rx="3.5" ry="2.6" transform="rotate(-20 318 551.6)" fill="none" stroke="#000" stroke-width="1.0" />
<ellipse cx="350.7" cy="540.7" rx="3.5" ry="2.6" transform="rotate(-20 350.7 540.7)" fill="none" stroke="#000" stroke-width="1.0" />
<circle cx="339.8" cy="505.4" r="0.9" fill="#000"/>
<circle cx="338" cy="534.4" r="0.9" fill="#000"/>
<line x1="318" y1="550.7" x2="338" y2="561.6" stroke="#000" stroke-width="1.0" />
<ellipse cx="337" cy="561.5" rx="2.6" ry="3.6" transform="rotate(28.9 337 561.5)" fill="#fff" stroke="#000" stroke-width="1.1" />
<polygon points="335.3,564.7 354.3,575.2 357.7,568.8 338.7,558.3" fill="#fff" stroke="none" stroke-width="0" />
<line x1="335.3" y1="564.7" x2="354.3" y2="575.2" stroke="#000" stroke-width="1.1" />
<line x1="338.7" y1="558.3" x2="357.7" y2="568.8" stroke="#000" stroke-width="1.1" />
<ellipse cx="356" cy="572" rx="2.6" ry="3.6" transform="rotate(28.9 356 572)" fill="#fff" stroke="#000" stroke-width="1.1" />
<ellipse cx="355" cy="571.5" rx="4.5" ry="6.3" transform="rotate(32.5 355 571.5)" fill="#fff" stroke="#000" stroke-width="1.3" />
<polygon points="351.6,576.8 357.1,580.3 363.9,569.7 358.4,566.2" fill="#fff" stroke="none" stroke-width="0" />
<line x1="351.6" y1="576.8" x2="357.1" y2="580.3" stroke="#000" stroke-width="1.3" />
<line x1="358.4" y1="566.2" x2="363.9" y2="569.7" stroke="#000" stroke-width="1.3" />
<ellipse cx="360.5" cy="575" rx="4.5" ry="6.3" transform="rotate(32.5 360.5 575)" fill="#fff" stroke="#000" stroke-width="1.3" />
<ellipse cx="360.8" cy="575.2" rx="2.5" ry="3.2" transform="rotate(30 360.8 575.2)" fill="none" stroke="#444" stroke-width="0.8" />
<ellipse cx="108.4" cy="535.9" rx="9.8" ry="12.3" transform="rotate(32 108.4 535.9)" fill="none" stroke="#000" stroke-width="1.8" />
<line x1="109.4" y1="536.3" x2="135.9" y2="552.9" stroke="#000" stroke-width="1.1" />
<ellipse cx="138.8" cy="536.3" rx="2.8" ry="3.2" fill="#fff" stroke="#000" stroke-width="1.5" />
<ellipse cx="151.6" cy="535.3" rx="2.8" ry="3.2" fill="#fff" stroke="#000" stroke-width="1.5" />
<ellipse cx="122.2" cy="559.8" rx="2.8" ry="3.2" fill="#fff" stroke="#000" stroke-width="1.5" />
<line x1="140" y1="538" x2="149.6" y2="543" stroke="#000" stroke-width="1.0" />
<line x1="153" y1="537.5" x2="161" y2="541.5" stroke="#000" stroke-width="1.0" />
<line x1="124.2" y1="561" x2="135.9" y2="567.6" stroke="#000" stroke-width="1.0" />
<path d="M136.9,549 C137,546.5 139,545.5 141.8,545 L149.6,542.2 L165.3,537.3 C170,535 174,534 178,534.3 L192.7,542.2 C196,545 198,549 198.6,552.9 L199.6,564.7 C199.5,567 199,569 197.6,570.6 L188.8,578.4 L161.4,588.2 L151.6,592.2 C147,592 142,588 138.8,584.3 L136.9,582.4 Z" fill="#fff" stroke="#000" stroke-width="1.7" />
<ellipse cx="188.8" cy="549" rx="4.5" ry="6.5" transform="rotate(15 188.8 549)" fill="#fff" stroke="#000" stroke-width="1.2" />
<ellipse cx="189.3" cy="549.5" rx="2.7" ry="4.2" transform="rotate(15 189.3 549.5)" fill="none" stroke="#444" stroke-width="0.8" />
<ellipse cx="157.5" cy="559.8" rx="5.5" ry="7" transform="rotate(15 157.5 559.8)" fill="#fff" stroke="#000" stroke-width="1.2" />
<ellipse cx="158" cy="560.3" rx="3.3" ry="4.5" transform="rotate(15 158 560.3)" fill="none" stroke="#444" stroke-width="0.8" />
<ellipse cx="147.6" cy="574.5" rx="5.5" ry="8" transform="rotate(15 147.6 574.5)" fill="#fff" stroke="#000" stroke-width="1.2" />
<ellipse cx="148.1" cy="575" rx="3.3" ry="5.2" transform="rotate(15 148.1 575)" fill="none" stroke="#444" stroke-width="0.8" />
<path d="M151,588 L188.8,575" fill="none" stroke="#000" stroke-width="0.9" />
<ellipse cx="156.5" cy="588.2" rx="4" ry="2.6" transform="rotate(-20 156.5 588.2)" fill="none" stroke="#000" stroke-width="1.0" />
<ellipse cx="188.8" cy="579.4" rx="4" ry="2.6" transform="rotate(-20 188.8 579.4)" fill="none" stroke="#000" stroke-width="1.0" />
<circle cx="175" cy="572.5" r="1" fill="#000"/>
<line x1="178" y1="534.3" x2="178" y2="542.2" stroke="#000" stroke-width="1.0" />
<line x1="196.7" y1="558.8" x2="224" y2="548.5" stroke="#000" stroke-width="1.0" />
<ellipse cx="213.7" cy="552.5" rx="5.1" ry="6.6" transform="rotate(-20 213.7 552.5)" fill="none" stroke="#000" stroke-width="1.9" />
<ellipse cx="224.5" cy="549.2" rx="3.6" ry="5" transform="rotate(-20.7 224.5 549.2)" fill="#fff" stroke="#000" stroke-width="1.1" />
<polygon points="226.3,553.9 230.8,552.2 227.2,542.8 222.7,544.5" fill="#fff" stroke="none" stroke-width="0" />
<line x1="226.3" y1="553.9" x2="230.8" y2="552.2" stroke="#000" stroke-width="1.1" />
<line x1="222.7" y1="544.5" x2="227.2" y2="542.8" stroke="#000" stroke-width="1.1" />
<ellipse cx="229" cy="547.5" rx="3.6" ry="5" transform="rotate(-20.7 229 547.5)" fill="#fff" stroke="#000" stroke-width="1.1" />
<ellipse cx="229" cy="547.5" rx="5.4" ry="7.5" transform="rotate(-21 229 547.5)" fill="#fff" stroke="#000" stroke-width="1.7" />
<polygon points="231.7,554.5 238.2,552 232.8,538 226.3,540.5" fill="#fff" stroke="none" stroke-width="0" />
<line x1="231.7" y1="554.5" x2="238.2" y2="552" stroke="#000" stroke-width="1.3" />
<line x1="226.3" y1="540.5" x2="232.8" y2="538" stroke="#000" stroke-width="1.3" />
<ellipse cx="235.5" cy="545" rx="5.4" ry="7.5" transform="rotate(-21 235.5 545)" fill="#fff" stroke="#000" stroke-width="1.3" />
<ellipse cx="235.5" cy="545" rx="3" ry="4.3" transform="rotate(-20 235.5 545)" fill="none" stroke="#555" stroke-width="0.8" />
<line x1="38.8" y1="611.8" x2="147.6" y2="574.5" stroke="#000" stroke-width="1.0" />
<ellipse cx="48.6" cy="608.4" rx="3.7" ry="5.2" transform="rotate(161.1 48.6 608.4)" fill="#fff" stroke="#000" stroke-width="1.2" />
<polygon points="46.9,603.5 42.3,605.1 45.7,614.9 50.3,613.4" fill="#fff" stroke="none" stroke-width="0" />
<line x1="46.9" y1="603.5" x2="42.3" y2="605.1" stroke="#000" stroke-width="1.2" />
<line x1="50.3" y1="613.4" x2="45.7" y2="614.9" stroke="#000" stroke-width="1.2" />
<ellipse cx="44" cy="610" rx="3.7" ry="5.2" transform="rotate(161.1 44 610)" fill="#fff" stroke="#000" stroke-width="1.2" />
<ellipse cx="44" cy="610" rx="5" ry="7" transform="rotate(161.1 44 610)" fill="#fff" stroke="#000" stroke-width="1.6" />
<polygon points="41.7,603.4 36.7,605.1 41.3,618.4 46.3,616.6" fill="#fff" stroke="none" stroke-width="0" />
<line x1="41.7" y1="603.4" x2="36.7" y2="605.1" stroke="#000" stroke-width="1.3" />
<line x1="46.3" y1="616.6" x2="41.3" y2="618.4" stroke="#000" stroke-width="1.3" />
<ellipse cx="39" cy="611.7" rx="5" ry="7" transform="rotate(161.1 39 611.7)" fill="#fff" stroke="#000" stroke-width="1.3" />
<ellipse cx="38.3" cy="612" rx="1.4" ry="1.8" transform="rotate(-18.9 38.3 612)" fill="none" stroke="#000" stroke-width="0.8" />
<ellipse cx="58.4" cy="604.5" rx="4.3" ry="5.8" transform="rotate(-18.9 58.4 604.5)" fill="none" stroke="#000" stroke-width="2.0" />
<ellipse cx="80" cy="597.7" rx="3.9" ry="5.4" transform="rotate(161.1 80 597.7)" fill="#fff" stroke="#000" stroke-width="1.3" />
<polygon points="78.2,592.6 65.2,597 68.8,607.2 81.8,602.8" fill="#fff" stroke="none" stroke-width="0" />
<line x1="78.2" y1="592.6" x2="65.2" y2="597" stroke="#000" stroke-width="1.3" />
<line x1="81.8" y1="602.8" x2="68.8" y2="607.2" stroke="#000" stroke-width="1.3" />
<ellipse cx="67" cy="602.1" rx="3.9" ry="5.4" transform="rotate(161.1 67 602.1)" fill="#fff" stroke="#000" stroke-width="1.3" />
<ellipse cx="68.5" cy="601.6" rx="3.8" ry="5.4" transform="rotate(-18.9 68.5 601.6)" fill="none" stroke="#000" stroke-width="1.5" />
<ellipse cx="71" cy="600.8" rx="3.8" ry="5.4" transform="rotate(-18.9 71 600.8)" fill="none" stroke="#000" stroke-width="1.5" />
<ellipse cx="73.5" cy="599.9" rx="3.8" ry="5.4" transform="rotate(-18.9 73.5 599.9)" fill="none" stroke="#000" stroke-width="1.5" />
<ellipse cx="76" cy="599" rx="3.8" ry="5.4" transform="rotate(-18.9 76 599)" fill="none" stroke="#000" stroke-width="1.5" />
<ellipse cx="78.5" cy="598.2" rx="3.8" ry="5.4" transform="rotate(-18.9 78.5 598.2)" fill="none" stroke="#000" stroke-width="1.5" />
<ellipse cx="97" cy="591.8" rx="3" ry="4.2" transform="rotate(161.1 97 591.8)" fill="#fff" stroke="#000" stroke-width="1.2" />
<polygon points="95.6,587.9 78.6,593.7 81.4,601.6 98.4,595.8" fill="#fff" stroke="none" stroke-width="0" />
<line x1="95.6" y1="587.9" x2="78.6" y2="593.7" stroke="#000" stroke-width="1.2" />
<line x1="98.4" y1="595.8" x2="81.4" y2="601.6" stroke="#000" stroke-width="1.2" />
<ellipse cx="80" cy="597.7" rx="3" ry="4.2" transform="rotate(161.1 80 597.7)" fill="#fff" stroke="#000" stroke-width="1.2" />
<ellipse cx="86" cy="595.6" rx="2.9" ry="4.2" transform="rotate(-18.9 86 595.6)" fill="none" stroke="#000" stroke-width="1.2" />
<ellipse cx="106" cy="588.8" rx="3.6" ry="5" transform="rotate(161.1 106 588.8)" fill="#fff" stroke="#000" stroke-width="1.8" />
<polygon points="104.4,584 100.4,585.4 103.6,594.9 107.6,593.5" fill="#fff" stroke="none" stroke-width="0" />
<line x1="104.4" y1="584" x2="100.4" y2="585.4" stroke="#000" stroke-width="1.5" />
<line x1="107.6" y1="593.5" x2="103.6" y2="594.9" stroke="#000" stroke-width="1.5" />
<ellipse cx="102" cy="590.1" rx="3.6" ry="5" transform="rotate(161.1 102 590.1)" fill="#fff" stroke="#000" stroke-width="1.5" />
<ellipse cx="102" cy="590.1" rx="1.6" ry="2.2" transform="rotate(-18.9 102 590.1)" fill="#fff" stroke="#000" stroke-width="1.3" />
<ellipse cx="116" cy="585.3" rx="3.5" ry="7" transform="rotate(-18.9 116 585.3)" fill="none" stroke="#555" stroke-width="0.9" />
<ellipse cx="118.5" cy="584.5" rx="3.5" ry="7" transform="rotate(-18.9 118.5 584.5)" fill="none" stroke="#555" stroke-width="0.9" />
<ellipse cx="121" cy="583.6" rx="3.5" ry="7" transform="rotate(-18.9 121 583.6)" fill="none" stroke="#555" stroke-width="0.9" />
<ellipse cx="123.5" cy="582.7" rx="3.5" ry="7" transform="rotate(-18.9 123.5 582.7)" fill="none" stroke="#555" stroke-width="0.9" />
<ellipse cx="126" cy="581.9" rx="3.5" ry="7" transform="rotate(-18.9 126 581.9)" fill="none" stroke="#555" stroke-width="0.9" />
<ellipse cx="128.5" cy="581" rx="3.5" ry="7" transform="rotate(-18.9 128.5 581)" fill="none" stroke="#555" stroke-width="0.9" />
<ellipse cx="131" cy="580.2" rx="3.5" ry="7" transform="rotate(-18.9 131 580.2)" fill="none" stroke="#555" stroke-width="0.9" />
<line x1="482" y1="516" x2="529.5" y2="532.3" stroke="#000" stroke-width="1.0" />
<line x1="481.7" y1="543.5" x2="510.8" y2="556" stroke="#000" stroke-width="1.0" />
<line x1="412" y1="619.5" x2="529.5" y2="573.4" stroke="#000" stroke-width="1.0" />
<line x1="626.6" y1="537.5" x2="585.5" y2="553.3" stroke="#000" stroke-width="1.0" />
<line x1="567.5" y1="555.4" x2="624.5" y2="582.9" stroke="#000" stroke-width="1.0" />
<ellipse cx="489" cy="519" rx="2.2" ry="3" transform="rotate(-151.4 489 519)" fill="#fff" stroke="#000" stroke-width="1.1" />
<polygon points="490.4,516.4 479.4,510.4 476.6,515.6 487.6,521.6" fill="#fff" stroke="none" stroke-width="0" />
<line x1="490.4" y1="516.4" x2="479.4" y2="510.4" stroke="#000" stroke-width="1.1" />
<line x1="487.6" y1="521.6" x2="476.6" y2="515.6" stroke="#000" stroke-width="1.1" />
<ellipse cx="478" cy="513" rx="2.2" ry="3" transform="rotate(-151.4 478 513)" fill="#fff" stroke="#000" stroke-width="1.1" />
<path d="M489,519 L492,520.5" fill="none" stroke="#000" stroke-width="1.0" />
<ellipse cx="508.3" cy="522.8" rx="3.6" ry="4.8" transform="rotate(20 508.3 522.8)" fill="#fff" stroke="#000" stroke-width="1.8" />
<ellipse cx="481.7" cy="543.5" rx="12.6" ry="14.6" transform="rotate(22 481.7 543.5)" fill="none" stroke="#000" stroke-width="2.1" />
<path d="M510.8,545.8 C511,540 512,537 514,535.5 L517.2,533 L526.2,526.5 C528,525.5 529,524.8 530.6,524.6 L539.6,524 C541,523.5 542,523.3 543.5,523.3 L551.2,525.9 L560.1,529.1 C563,531 564.5,532.5 565.3,534.2 C566,536 566.4,538 566.5,540.6 L569.1,544.5 L581.9,549.6 L588.3,554.7 C590,556.5 590.7,558 590.9,559.9 L590.9,571.4 C590,574 588.8,576 587.1,577.8 L576.8,581.7 L569.1,586.8 C566,588.5 564,589.2 561.4,589.4 C558,589.3 556,588.5 553.7,586.8 L542.2,584.9 L539.6,590.6 C538,591.5 536.5,592 534.5,591.9 C533,591.5 531.5,590.5 530.6,589.4 L515.3,583 C513,581.5 511.5,580.5 510.8,579.1 Z" fill="#fff" stroke="#000" stroke-width="1.5" />
<path d="M512.7,545.8 L531,551 M517.2,533 L547,543 L566.5,540.6 M526.2,526.5 L556,537 M540,553 L566,562 M545,580 L556,576 M530.6,589.4 L531.5,583.5 L539,584" fill="none" stroke="#333" stroke-width="0.8" />
<path d="M547,543 L548,555 M556,537 L557,547" fill="none" stroke="#555" stroke-width="0.8" />
<ellipse cx="535.1" cy="572.1" rx="7.6" ry="10.6" transform="rotate(12 535.1 572.1)" fill="#fff" stroke="#000" stroke-width="1.5" />
<ellipse cx="535.5" cy="572.5" rx="5.5" ry="7.8" transform="rotate(12 535.5 572.5)" fill="none" stroke="#222" stroke-width="1.1" />
<ellipse cx="535.9" cy="572.9" rx="3.8" ry="5.5" transform="rotate(12 535.9 572.9)" fill="none" stroke="#666" stroke-width="0.8" stroke-dasharray="1.5,1"/>
<ellipse cx="562.1" cy="577.8" rx="8.4" ry="11.5" transform="rotate(12 562.1 577.8)" fill="#fff" stroke="#000" stroke-width="1.5" />
<ellipse cx="562.5" cy="578.2" rx="6" ry="8.5" transform="rotate(12 562.5 578.2)" fill="none" stroke="#222" stroke-width="1.1" />
<ellipse cx="562.9" cy="578.6" rx="4.2" ry="6" transform="rotate(12 562.9 578.6)" fill="none" stroke="#666" stroke-width="0.8" stroke-dasharray="1.5,1"/>
<ellipse cx="581.9" cy="570.1" rx="7.2" ry="9.4" transform="rotate(12 581.9 570.1)" fill="#fff" stroke="#000" stroke-width="1.5" />
<ellipse cx="582.3" cy="570.5" rx="5.2" ry="7" transform="rotate(12 582.3 570.5)" fill="none" stroke="#222" stroke-width="1.1" />
<ellipse cx="582.7" cy="570.9" rx="3.6" ry="4.9" transform="rotate(12 582.7 570.9)" fill="none" stroke="#666" stroke-width="0.8" stroke-dasharray="1.5,1"/>
<ellipse cx="538.3" cy="548.3" rx="5.8" ry="7.4" transform="rotate(12 538.3 548.3)" fill="#fff" stroke="#000" stroke-width="1.4" />
<ellipse cx="538.7" cy="548.7" rx="3.8" ry="4.9" transform="rotate(12 538.7 548.7)" fill="none" stroke="#111" stroke-width="1.6" />
<ellipse cx="567.8" cy="556" rx="5.4" ry="6.9" transform="rotate(12 567.8 556)" fill="#fff" stroke="#000" stroke-width="1.4" />
<ellipse cx="568.2" cy="556.4" rx="3.6" ry="4.6" transform="rotate(12 568.2 556.4)" fill="none" stroke="#111" stroke-width="1.6" />
<ellipse cx="561.4" cy="539.4" rx="4" ry="5" transform="rotate(12 561.4 539.4)" fill="#fff" stroke="#000" stroke-width="1.6" />
<path d="M548,537 L556,536 L556,541" fill="none" stroke="#000" stroke-width="0.9" />
<ellipse cx="609.3" cy="542.8" rx="5.3" ry="6.8" transform="rotate(-21 609.3 542.8)" fill="none" stroke="#000" stroke-width="2.1" />
<ellipse cx="625.5" cy="538.5" rx="3.6" ry="5" transform="rotate(-24.8 625.5 538.5)" fill="#fff" stroke="#000" stroke-width="1.2" />
<polygon points="627.6,543 634.1,540 629.9,531 623.4,534" fill="#fff" stroke="none" stroke-width="0" />
<line x1="627.6" y1="543" x2="634.1" y2="540" stroke="#000" stroke-width="1.2" />
<line x1="623.4" y1="534" x2="629.9" y2="531" stroke="#000" stroke-width="1.2" />
<ellipse cx="632" cy="535.5" rx="3.6" ry="5" transform="rotate(-24.8 632 535.5)" fill="#fff" stroke="#000" stroke-width="1.2" />
<ellipse cx="632" cy="535.5" rx="5.8" ry="8" transform="rotate(-24.4 632 535.5)" fill="#fff" stroke="#000" stroke-width="1.4" />
<polygon points="635.3,542.8 640.8,540.3 634.2,525.7 628.7,528.2" fill="#fff" stroke="none" stroke-width="0" />
<line x1="635.3" y1="542.8" x2="640.8" y2="540.3" stroke="#000" stroke-width="1.4" />
<line x1="628.7" y1="528.2" x2="634.2" y2="525.7" stroke="#000" stroke-width="1.4" />
<ellipse cx="637.5" cy="533" rx="5.8" ry="8" transform="rotate(-24.4 637.5 533)" fill="#fff" stroke="#000" stroke-width="1.4" />
<ellipse cx="633" cy="535" rx="5.6" ry="8" transform="rotate(-21 633 535)" fill="none" stroke="#000" stroke-width="1.3" />
<ellipse cx="638" cy="533" rx="3" ry="4" transform="rotate(-21 638 533)" fill="none" stroke="#555" stroke-width="0.8" />
<ellipse cx="605.5" cy="572.3" rx="4" ry="5" transform="rotate(26 605.5 572.3)" fill="none" stroke="#000" stroke-width="2.0" />
<ellipse cx="618" cy="577.5" rx="3.5" ry="4.8" transform="rotate(26.6 618 577.5)" fill="#fff" stroke="#000" stroke-width="1.2" />
<polygon points="615.9,581.8 619.9,583.8 624.1,575.2 620.1,573.2" fill="#fff" stroke="none" stroke-width="0" />
<line x1="615.9" y1="581.8" x2="619.9" y2="583.8" stroke="#000" stroke-width="1.2" />
<line x1="620.1" y1="573.2" x2="624.1" y2="575.2" stroke="#000" stroke-width="1.2" />
<ellipse cx="622" cy="579.5" rx="3.5" ry="4.8" transform="rotate(26.6 622 579.5)" fill="#fff" stroke="#000" stroke-width="1.2" />
<ellipse cx="622" cy="579.5" rx="4.6" ry="6.4" transform="rotate(24.4 622 579.5)" fill="#fff" stroke="#000" stroke-width="1.3" />
<polygon points="619.4,585.3 624.9,587.8 630.1,576.2 624.6,573.7" fill="#fff" stroke="none" stroke-width="0" />
<line x1="619.4" y1="585.3" x2="624.9" y2="587.8" stroke="#000" stroke-width="1.3" />
<line x1="624.6" y1="573.7" x2="630.1" y2="576.2" stroke="#000" stroke-width="1.3" />
<ellipse cx="627.5" cy="582" rx="4.6" ry="6.4" transform="rotate(24.4 627.5 582)" fill="#fff" stroke="#000" stroke-width="1.3" />
<circle cx="628" cy="582" r="0.9" fill="#000"/>
<ellipse cx="423.5" cy="615" rx="4" ry="5.6" transform="rotate(158.6 423.5 615)" fill="#fff" stroke="#000" stroke-width="1.3" />
<polygon points="421.5,609.8 414.5,612.5 418.5,622.9 425.5,620.2" fill="#fff" stroke="none" stroke-width="0" />
<line x1="421.5" y1="609.8" x2="414.5" y2="612.5" stroke="#000" stroke-width="1.3" />
<line x1="425.5" y1="620.2" x2="418.5" y2="622.9" stroke="#000" stroke-width="1.3" />
<ellipse cx="416.5" cy="617.7" rx="4" ry="5.6" transform="rotate(158.6 416.5 617.7)" fill="#fff" stroke="#000" stroke-width="1.3" />
<ellipse cx="416.5" cy="617.7" rx="5.9" ry="8.2" transform="rotate(158.6 416.5 617.7)" fill="#fff" stroke="#000" stroke-width="1.4" />
<polygon points="413.5,610.1 409.5,611.7 415.5,626.9 419.5,625.4" fill="#fff" stroke="none" stroke-width="0" />
<line x1="413.5" y1="610.1" x2="409.5" y2="611.7" stroke="#000" stroke-width="1.4" />
<line x1="419.5" y1="625.4" x2="415.5" y2="626.9" stroke="#000" stroke-width="1.4" />
<ellipse cx="412.5" cy="619.3" rx="5.9" ry="8.2" transform="rotate(158.6 412.5 619.3)" fill="#fff" stroke="#000" stroke-width="1.4" />
<ellipse cx="412.3" cy="619.4" rx="1.3" ry="1.7" transform="rotate(-21.4 412.3 619.4)" fill="none" stroke="#000" stroke-width="0.8" />
<ellipse cx="435.6" cy="610.7" rx="5.2" ry="6.7" transform="rotate(-21.4 435.6 610.7)" fill="none" stroke="#000" stroke-width="2.2" />
<ellipse cx="447.5" cy="605.6" rx="2.8" ry="5.6" transform="rotate(-21.4 447.5 605.6)" fill="none" stroke="#555" stroke-width="1.0" />
<ellipse cx="449.7" cy="604.7" rx="2.8" ry="5.6" transform="rotate(-21.4 449.7 604.7)" fill="none" stroke="#555" stroke-width="1.0" />
<ellipse cx="451.9" cy="603.8" rx="2.8" ry="5.6" transform="rotate(-21.4 451.9 603.8)" fill="none" stroke="#555" stroke-width="1.0" />
<ellipse cx="454.1" cy="603" rx="2.8" ry="5.6" transform="rotate(-21.4 454.1 603)" fill="none" stroke="#555" stroke-width="1.0" />
<ellipse cx="456.3" cy="602.1" rx="2.8" ry="5.6" transform="rotate(-21.4 456.3 602.1)" fill="none" stroke="#555" stroke-width="1.0" />
<ellipse cx="458.5" cy="601.3" rx="2.8" ry="5.6" transform="rotate(-21.4 458.5 601.3)" fill="none" stroke="#555" stroke-width="1.0" />
<ellipse cx="479" cy="593.2" rx="3" ry="4.2" transform="rotate(158.6 479 593.2)" fill="#fff" stroke="#000" stroke-width="1.2" />
<polygon points="477.5,589.3 470.5,592.1 473.5,599.9 480.5,597.1" fill="#fff" stroke="none" stroke-width="0" />
<line x1="477.5" y1="589.3" x2="470.5" y2="592.1" stroke="#000" stroke-width="1.2" />
<line x1="480.5" y1="597.1" x2="473.5" y2="599.9" stroke="#000" stroke-width="1.2" />
<ellipse cx="472" cy="596" rx="3" ry="4.2" transform="rotate(158.6 472 596)" fill="#fff" stroke="#000" stroke-width="1.2" />
<ellipse cx="492" cy="588.1" rx="3.8" ry="5.3" transform="rotate(158.6 492 588.1)" fill="#fff" stroke="#000" stroke-width="1.3" />
<polygon points="490.1,583.2 477.1,588.3 480.9,598.1 493.9,593" fill="#fff" stroke="none" stroke-width="0" />
<line x1="490.1" y1="583.2" x2="477.1" y2="588.3" stroke="#000" stroke-width="1.3" />
<line x1="493.9" y1="593" x2="480.9" y2="598.1" stroke="#000" stroke-width="1.3" />
<ellipse cx="479" cy="593.2" rx="3.8" ry="5.3" transform="rotate(158.6 479 593.2)" fill="#fff" stroke="#000" stroke-width="1.3" />
<ellipse cx="482" cy="592" rx="3.7" ry="5.3" transform="rotate(-21.4 482 592)" fill="none" stroke="#000" stroke-width="1.2" />
<ellipse cx="485" cy="590.9" rx="3.7" ry="5.3" transform="rotate(-21.4 485 590.9)" fill="none" stroke="#000" stroke-width="1.2" />
<ellipse cx="488" cy="589.7" rx="3.7" ry="5.3" transform="rotate(-21.4 488 589.7)" fill="none" stroke="#000" stroke-width="1.2" />
<ellipse cx="490.5" cy="588.7" rx="3.7" ry="5.3" transform="rotate(-21.4 490.5 588.7)" fill="none" stroke="#000" stroke-width="1.2" />
<path d="M858.9,470 C859,467 859.5,465 860.4,463.7 C861.5,462.5 862.5,461.7 863.6,461.1 L871,457.9 C873,457.2 875,456.9 877.3,456.9 C879.5,457 881.5,457.3 883.7,457.9 L898.4,464.8 C900.5,466 902,467.3 902.7,468.5 C903.5,470.5 903.7,472.5 903.7,474.3 L909,477.4 L917.4,484.8 C920,486.5 921.5,488 922.2,489.6 L922.2,500.7 C921.5,502.5 920.7,503.8 919.5,504.9 L911.1,507.5 L902.7,510.7 C900.5,511.5 898.5,511.8 896.3,511.7 L890,509.1 L883.7,510.2 L880.5,511.7 C879,511.5 877.5,511.2 876.3,510.7 L860.4,501.7 C859.5,500 859,498.5 858.9,496.4 Z" fill="#fff" stroke="#000" stroke-width="1.5" />
<path d="M860.4,469.5 L901.6,485.9 M863.6,461.1 L899,475 M871,457.9 L901,469.5 M872,476 L895,485 M876.3,510.7 L877,505.5 L882,506" fill="none" stroke="#333" stroke-width="0.8" />
<ellipse cx="876.8" cy="494.9" rx="6.3" ry="9" transform="rotate(12 876.8 494.9)" fill="#fff" stroke="#000" stroke-width="1.5" />
<ellipse cx="877.1" cy="495.2" rx="4.2" ry="6.1" transform="rotate(12 877.1 495.2)" fill="none" stroke="#222" stroke-width="1.1" />
<ellipse cx="900" cy="502.8" rx="7" ry="8.7" transform="rotate(12 900 502.8)" fill="#fff" stroke="#000" stroke-width="1.5" />
<ellipse cx="900.3" cy="503.1" rx="4.6" ry="5.9" transform="rotate(12 900.3 503.1)" fill="none" stroke="#222" stroke-width="1.1" />
<ellipse cx="914.8" cy="497.5" rx="6.5" ry="8.5" transform="rotate(12 914.8 497.5)" fill="#fff" stroke="#000" stroke-width="1.5" />
<ellipse cx="915.1" cy="497.8" rx="4.3" ry="5.8" transform="rotate(12 915.1 497.8)" fill="none" stroke="#222" stroke-width="1.1" />
<ellipse cx="880" cy="476.9" rx="4.2" ry="5.3" transform="rotate(12 880 476.9)" fill="#fff" stroke="#000" stroke-width="1.3" />
<ellipse cx="880.3" cy="477.2" rx="2.5" ry="3.2" transform="rotate(12 880.3 477.2)" fill="none" stroke="#111" stroke-width="1.4" />
<ellipse cx="904.2" cy="485.9" rx="4.2" ry="5.3" transform="rotate(12 904.2 485.9)" fill="#fff" stroke="#000" stroke-width="1.3" />
<ellipse cx="904.5" cy="486.2" rx="2.5" ry="3.2" transform="rotate(12 904.5 486.2)" fill="none" stroke="#111" stroke-width="1.4" />
<ellipse cx="900" cy="471.6" rx="3.4" ry="4" transform="rotate(12 900 471.6)" fill="#fff" stroke="#000" stroke-width="1.4" />
<line x1="885.2" y1="509.4" x2="904" y2="520" stroke="#000" stroke-width="1.0" />
<ellipse cx="904" cy="520.5" rx="2.4" ry="3.3" transform="rotate(30.8 904 520.5)" fill="#fff" stroke="#000" stroke-width="1.1" />
<polygon points="902.3,523.3 923.3,535.8 926.7,530.2 905.7,517.7" fill="#fff" stroke="none" stroke-width="0" />
<line x1="902.3" y1="523.3" x2="923.3" y2="535.8" stroke="#000" stroke-width="1.1" />
<line x1="905.7" y1="517.7" x2="926.7" y2="530.2" stroke="#000" stroke-width="1.1" />
<ellipse cx="925" cy="533" rx="2.4" ry="3.3" transform="rotate(30.8 925 533)" fill="#fff" stroke="#000" stroke-width="1.1" />
<ellipse cx="924" cy="532.5" rx="4.3" ry="6" transform="rotate(30.3 924 532.5)" fill="#fff" stroke="#000" stroke-width="1.3" />
<polygon points="921,537.7 927,541.2 933,530.8 927,527.3" fill="#fff" stroke="none" stroke-width="0" />
<line x1="921" y1="537.7" x2="927" y2="541.2" stroke="#000" stroke-width="1.3" />
<line x1="927" y1="527.3" x2="933" y2="530.8" stroke="#000" stroke-width="1.3" />
<ellipse cx="930" cy="536" rx="4.3" ry="6" transform="rotate(30.3 930 536)" fill="#fff" stroke="#000" stroke-width="1.3" />
<ellipse cx="930.3" cy="536.2" rx="2.4" ry="3" transform="rotate(32 930.3 536.2)" fill="none" stroke="#444" stroke-width="0.8" />
<line x1="544.8" y1="233.7" x2="555" y2="239.6" stroke="#000" stroke-width="1.2" />
<path d="M555,235.6 C560,234.5 565,234 568.5,233.2 C574,231 579,228.5 584.4,226.9 L598.6,222.6 L614.5,233.2 C617.5,236 619.5,240 620,245.1 L620,259.4 C619,262 617.5,263.8 616.1,264.9 L581.2,284.7 C578,286.2 575,287 571.7,287.1 L553.5,276.8 L553.5,238.8 C553.7,237 554.2,236 555,235.6 Z" fill="#fff" stroke="#000" stroke-width="1.6" />
<path d="M580,279 L610,267" fill="none" stroke="#333" stroke-width="0.8" stroke-dasharray="1.5,1"/>
<ellipse cx="612.9" cy="239.6" rx="4.6" ry="5.2" transform="rotate(20 612.9 239.6)" fill="#fff" stroke="#000" stroke-width="1.7" />
<ellipse cx="613.2" cy="239.9" rx="2.6" ry="3" transform="rotate(20 613.2 239.9)" fill="none" stroke="#222" stroke-width="1.1" />
<ellipse cx="613.3" cy="240" rx="1" ry="1.3" transform="rotate(20 613.3 240)" fill="none" stroke="#444" stroke-width="0.8" />
<ellipse cx="612.9" cy="270.5" rx="4.6" ry="5.2" transform="rotate(20 612.9 270.5)" fill="#fff" stroke="#000" stroke-width="1.7" />
<ellipse cx="613.2" cy="270.8" rx="2.6" ry="3" transform="rotate(20 613.2 270.8)" fill="none" stroke="#222" stroke-width="1.1" />
<ellipse cx="613.3" cy="270.9" rx="1" ry="1.3" transform="rotate(20 613.3 270.9)" fill="none" stroke="#444" stroke-width="0.8" />
<ellipse cx="577.2" cy="282.4" rx="4.6" ry="5.2" transform="rotate(20 577.2 282.4)" fill="#fff" stroke="#000" stroke-width="1.7" />
<ellipse cx="577.5" cy="282.7" rx="2.6" ry="3" transform="rotate(20 577.5 282.7)" fill="none" stroke="#222" stroke-width="1.1" />
<ellipse cx="577.6" cy="282.8" rx="1" ry="1.3" transform="rotate(20 577.6 282.8)" fill="none" stroke="#444" stroke-width="0.8" />
<ellipse cx="577.2" cy="250.7" rx="6" ry="7" transform="rotate(15 577.2 250.7)" fill="#fff" stroke="#000" stroke-width="1.1" />
<ellipse cx="577.6" cy="251.1" rx="3.3" ry="3.9" transform="rotate(15 577.6 251.1)" fill="none" stroke="#222" stroke-width="1.0" />
<ellipse cx="565.4" cy="265.7" rx="5" ry="7" transform="rotate(15 565.4 265.7)" fill="#fff" stroke="#000" stroke-width="1.1" />
<ellipse cx="565.8" cy="266.1" rx="2.8" ry="3.9" transform="rotate(15 565.8 266.1)" fill="none" stroke="#222" stroke-width="1.0" />
<circle cx="595" cy="231" r="0.9" fill="#000"/>
<circle cx="595.5" cy="262" r="0.9" fill="#000"/>
<line x1="60.2" y1="265.2" x2="445.6" y2="136.7" stroke="#000" stroke-width="1.3" />
<line x1="73.6" y1="260.7" x2="73.6" y2="310.5" stroke="#000" stroke-width="1.3" />
<line x1="158" y1="232.6" x2="158" y2="248.4" stroke="#000" stroke-width="1.3" />
<line x1="192.6" y1="221.1" x2="192.6" y2="232.7" stroke="#000" stroke-width="1.3" />
<line x1="269.5" y1="195.4" x2="269.5" y2="209.2" stroke="#000" stroke-width="1.3" />
<line x1="285.4" y1="190.1" x2="285.4" y2="203.4" stroke="#000" stroke-width="1.3" />
<line x1="347" y1="169.6" x2="347" y2="182.8" stroke="#000" stroke-width="1.3" />
<line x1="422.4" y1="144.5" x2="422.4" y2="157.6" stroke="#000" stroke-width="1.3" />
<line x1="445.6" y1="136.7" x2="445.6" y2="150.9" stroke="#000" stroke-width="1.3" />
<line x1="158" y1="271" x2="158" y2="285.3" stroke="#000" stroke-width="1.3" />
<line x1="192.6" y1="257.9" x2="192.6" y2="267" stroke="#000" stroke-width="1.3" />
<line x1="269.5" y1="229.4" x2="269.5" y2="244.5" stroke="#000" stroke-width="1.3" />
<line x1="285.4" y1="225.5" x2="285.4" y2="240.3" stroke="#000" stroke-width="1.3" />
<line x1="347" y1="198.7" x2="347" y2="213.8" stroke="#000" stroke-width="1.3" />
<line x1="422.4" y1="175.2" x2="422.4" y2="192" stroke="#000" stroke-width="1.3" />
<line x1="445.6" y1="170.2" x2="445.6" y2="184.4" stroke="#000" stroke-width="1.3" />
<line x1="427.1" y1="288.2" x2="427.1" y2="304.3" stroke="#000" stroke-width="1.3" />
<line x1="442.3" y1="370.8" x2="442.3" y2="387.7" stroke="#000" stroke-width="1.3" />
<line x1="617.8" y1="392.1" x2="617.8" y2="408.7" stroke="#000" stroke-width="1.3" />
<line x1="689.1" y1="385.5" x2="689.1" y2="401.3" stroke="#000" stroke-width="1.3" />
<line x1="676.4" y1="117.3" x2="662" y2="129" stroke="#000" stroke-width="1.3" />
<line x1="731.7" y1="36" x2="878.5" y2="126.6" stroke="#000" stroke-width="1.3" />
<line x1="731.7" y1="36" x2="731.7" y2="53.6" stroke="#000" stroke-width="1.3" />
<line x1="731.7" y1="74.3" x2="731.7" y2="86.6" stroke="#000" stroke-width="1.3" />
<line x1="786" y1="69.5" x2="786" y2="81.9" stroke="#000" stroke-width="1.3" />
<line x1="786" y1="101.7" x2="786" y2="117.7" stroke="#000" stroke-width="1.3" />
<line x1="817.2" y1="88.8" x2="817.2" y2="101.7" stroke="#000" stroke-width="1.3" />
<line x1="817.2" y1="121.5" x2="817.2" y2="136.6" stroke="#000" stroke-width="1.3" />
<line x1="864.3" y1="117.8" x2="864.3" y2="158.2" stroke="#000" stroke-width="1.3" />
<line x1="738.5" y1="139" x2="830.2" y2="194.5" stroke="#000" stroke-width="1.3" />
<line x1="738.6" y1="139" x2="738.6" y2="154" stroke="#000" stroke-width="1.3" />
<line x1="738.6" y1="168.2" x2="738.6" y2="183.1" stroke="#000" stroke-width="1.3" />
<line x1="755.2" y1="149.1" x2="755.2" y2="164.9" stroke="#000" stroke-width="1.3" />
<line x1="755.2" y1="179.8" x2="755.2" y2="198" stroke="#000" stroke-width="1.3" />
<line x1="775.5" y1="161.4" x2="775.5" y2="175.7" stroke="#000" stroke-width="1.3" />
<line x1="775.5" y1="189.8" x2="775.5" y2="198" stroke="#000" stroke-width="1.3" />
<line x1="794.9" y1="173.1" x2="794.9" y2="187.3" stroke="#000" stroke-width="1.3" />
<line x1="794.9" y1="202.2" x2="794.9" y2="213" stroke="#000" stroke-width="1.3" />
<line x1="817.4" y1="186.7" x2="817.4" y2="194.7" stroke="#000" stroke-width="1.3" />
<line x1="817.4" y1="212" x2="817.4" y2="222" stroke="#000" stroke-width="1.3" />
<circle cx="817.4" cy="222" r="1.4" fill="#000"/>
<line x1="879.8" y1="195.5" x2="879.8" y2="213.1" stroke="#000" stroke-width="1.3" />
<line x1="898.4" y1="211.2" x2="898.4" y2="226.9" stroke="#000" stroke-width="1.3" />
<line x1="744" y1="283.8" x2="790.4" y2="312" stroke="#000" stroke-width="1.3" />
<line x1="744" y1="243.2" x2="744" y2="252.3" stroke="#000" stroke-width="1.3" />
<line x1="744" y1="272.2" x2="744" y2="283.8" stroke="#000" stroke-width="1.3" />
<line x1="762.7" y1="253.2" x2="762.7" y2="263.4" stroke="#000" stroke-width="1.3" />
<line x1="762.7" y1="280.5" x2="762.7" y2="295.2" stroke="#000" stroke-width="1.3" />
<line x1="781.3" y1="268" x2="781.3" y2="283.8" stroke="#000" stroke-width="1.3" />
<line x1="781.3" y1="298.8" x2="781.3" y2="306.5" stroke="#000" stroke-width="1.3" />
<circle cx="781.3" cy="273.9" r="1.4" fill="#000"/>
<line x1="750.8" y1="378" x2="853.3" y2="440.5" stroke="#000" stroke-width="1.3" />
<line x1="750.8" y1="329.4" x2="750.8" y2="350.9" stroke="#000" stroke-width="1.3" />
<line x1="750.8" y1="366.7" x2="750.8" y2="378" stroke="#000" stroke-width="1.3" />
<line x1="775.2" y1="338.5" x2="775.2" y2="366" stroke="#000" stroke-width="1.3" />
<line x1="775.2" y1="381.4" x2="775.2" y2="392.9" stroke="#000" stroke-width="1.3" />
<line x1="797.2" y1="358.8" x2="797.2" y2="382.6" stroke="#000" stroke-width="1.3" />
<line x1="797.2" y1="397.3" x2="797.2" y2="406.3" stroke="#000" stroke-width="1.3" />
<line x1="820" y1="372.4" x2="820" y2="395" stroke="#000" stroke-width="1.3" />
<line x1="820" y1="410.9" x2="820" y2="420.2" stroke="#000" stroke-width="1.3" />
<line x1="844.3" y1="395" x2="844.3" y2="435" stroke="#000" stroke-width="1.3" />
<line x1="767.1" y1="424" x2="767.1" y2="440.2" stroke="#000" stroke-width="1.3" />
<line x1="794.3" y1="437.5" x2="794.3" y2="453.8" stroke="#000" stroke-width="1.3" />
<line x1="816.8" y1="449.7" x2="816.8" y2="466" stroke="#000" stroke-width="1.3" />
<line x1="837.1" y1="467.3" x2="837.1" y2="486.3" stroke="#000" stroke-width="1.3" />
<line x1="878.4" y1="510.8" x2="878.4" y2="531.1" stroke="#000" stroke-width="1.3" />
<line x1="911.8" y1="533.8" x2="911.8" y2="547.4" stroke="#000" stroke-width="1.3" />
<line x1="208.6" y1="428" x2="208.6" y2="444.2" stroke="#000" stroke-width="1.3" />
<line x1="264.7" y1="464.3" x2="264.7" y2="482.9" stroke="#000" stroke-width="1.3" />
<line x1="287.5" y1="476" x2="287.5" y2="492.7" stroke="#000" stroke-width="1.3" />
<line x1="282.1" y1="531.5" x2="298.1" y2="531.3" stroke="#000" stroke-width="1.3" />
<line x1="347.6" y1="575.1" x2="347.6" y2="589.6" stroke="#000" stroke-width="1.3" />
<line x1="138.8" y1="521.6" x2="138.8" y2="533.3" stroke="#000" stroke-width="1.3" />
<line x1="138.8" y1="521.6" x2="149.6" y2="531.4" stroke="#000" stroke-width="1.3" />
<line x1="138.8" y1="521.6" x2="122.2" y2="556.9" stroke="#000" stroke-width="1.3" />
<polyline points="178,542.2 178,524.5 202.2,522.5 202.2,549" fill="none" stroke="#000" stroke-width="1.3" />
<rect x="176.3" y="522.8" width="3.4" height="3.4" fill="#fff" stroke="#000" stroke-width="1"/>
<rect x="200.5" y="547.5" width="3.4" height="3.4" fill="#fff" stroke="#000" stroke-width="1"/>
<line x1="82.9" y1="549" x2="97.6" y2="542.2" stroke="#000" stroke-width="1.3" />
<line x1="43.3" y1="588.2" x2="43.3" y2="604.9" stroke="#000" stroke-width="1.3" />
<line x1="58" y1="582.4" x2="58" y2="599" stroke="#000" stroke-width="1.3" />
<line x1="214.9" y1="559.8" x2="214.9" y2="575.5" stroke="#000" stroke-width="1.3" />
<line x1="230.4" y1="554.9" x2="230.4" y2="571.6" stroke="#000" stroke-width="1.3" />
<polyline points="169.2,596.1 195.7,603 196.7,584.3" fill="none" stroke="#000" stroke-width="1.3" />
<line x1="175" y1="572.5" x2="195.7" y2="584.3" stroke="#000" stroke-width="1.04" />
<rect x="167.5" y="594.4" width="3.4" height="3.4" fill="#fff" stroke="#000" stroke-width="1"/>
<rect x="195" y="582.6" width="3.4" height="3.4" fill="#fff" stroke="#000" stroke-width="1"/>
<line x1="483.9" y1="497.4" x2="483.9" y2="514.9" stroke="#000" stroke-width="1.3" />
<line x1="509.6" y1="501.2" x2="509.6" y2="518.6" stroke="#000" stroke-width="1.3" />
<line x1="554.5" y1="511.1" x2="570.7" y2="511.1" stroke="#000" stroke-width="1.3" />
<rect x="549" y="509.4" width="3.6" height="3.6" fill="#fff" stroke="#000" stroke-width="1"/>
<line x1="551.3" y1="513.2" x2="551.3" y2="538.5" stroke="#000" stroke-width="1.04" />
<line x1="609.3" y1="519.6" x2="609.3" y2="535.4" stroke="#000" stroke-width="1.3" />
<line x1="633" y1="507.9" x2="633" y2="524.8" stroke="#000" stroke-width="1.3" />
<line x1="452.3" y1="545.2" x2="468.5" y2="545.2" stroke="#000" stroke-width="1.3" />
<line x1="416.2" y1="595.8" x2="416.2" y2="614.5" stroke="#000" stroke-width="1.3" />
<line x1="436.1" y1="588.3" x2="436.1" y2="605.8" stroke="#000" stroke-width="1.3" />
<line x1="606.2" y1="577.6" x2="606.2" y2="595.5" stroke="#000" stroke-width="1.3" />
<line x1="625" y1="588.2" x2="625" y2="605" stroke="#000" stroke-width="1.3" />
<text transform="translate(48.1 272.7) scale(0.97 1)" x="0" y="0" font-size="14.2" font-weight="bold" text-anchor="middle">27</text>
<text transform="translate(157.5 264.8) scale(0.97 1)" x="0" y="0" font-size="14.2" font-weight="bold" text-anchor="middle">34</text>
<text transform="translate(192.4 248.1) scale(0.97 1)" x="0" y="0" font-size="14.2" font-weight="bold" text-anchor="middle">30</text>
<text transform="translate(268.6 224.8) scale(0.97 1)" x="0" y="0" font-size="14.2" font-weight="bold" text-anchor="middle">29</text>
<text transform="translate(285.7 218.5) scale(0.97 1)" x="0" y="0" font-size="14.2" font-weight="bold" text-anchor="middle">28</text>
<text transform="translate(346.9 194.8) scale(0.97 1)" x="0" y="0" font-size="14.2" font-weight="bold" text-anchor="middle">32</text>
<text transform="translate(423 170.7) scale(0.97 1)" x="0" y="0" font-size="14.2" font-weight="bold" text-anchor="middle">33</text>
<text transform="translate(445.4 165.5) scale(0.97 1)" x="0" y="0" font-size="14.2" font-weight="bold" text-anchor="middle">31</text>
<text transform="translate(426.8 317.6) scale(0.97 1)" x="0" y="0" font-size="14.2" font-weight="bold" text-anchor="middle">42</text>
<text transform="translate(441.4 398.6) scale(0.97 1)" x="0" y="0" font-size="14.2" font-weight="bold" text-anchor="middle">40</text>
<text transform="translate(617 422) scale(0.97 1)" x="0" y="0" font-size="14.2" font-weight="bold" text-anchor="middle">42</text>
<text transform="translate(688.4 414.9) scale(0.97 1)" x="0" y="0" font-size="14.2" font-weight="bold" text-anchor="middle">13</text>
<text transform="translate(683.5 114.8) scale(0.97 1)" x="0" y="0" font-size="14.2" font-weight="bold" text-anchor="middle">42</text>
<text transform="translate(732 69.6) scale(0.97 1)" x="0" y="0" font-size="14.2" font-weight="bold" text-anchor="middle">36</text>
<text transform="translate(786.3 97.9) scale(0.97 1)" x="0" y="0" font-size="14.2" font-weight="bold" text-anchor="middle">38</text>
<text transform="translate(817.4 117.7) scale(0.97 1)" x="0" y="0" font-size="14.2" font-weight="bold" text-anchor="middle">37</text>
<text transform="translate(888.7 139.5) scale(0.97 1)" x="0" y="0" font-size="14.2" font-weight="bold" text-anchor="middle">35</text>
<text transform="translate(737.4 163.5) scale(0.97 1)" x="0" y="0" font-size="14.2" font-weight="bold" text-anchor="middle">17</text>
<text transform="translate(755.5 175.7) scale(0.97 1)" x="0" y="0" font-size="14.2" font-weight="bold" text-anchor="middle">18</text>
<text transform="translate(775.7 186.4) scale(0.97 1)" x="0" y="0" font-size="14.2" font-weight="bold" text-anchor="middle">15</text>
<text transform="translate(795.1 198.9) scale(0.97 1)" x="0" y="0" font-size="14.2" font-weight="bold" text-anchor="middle">16</text>
<text transform="translate(817.5 209.2) scale(0.97 1)" x="0" y="0" font-size="14.2" font-weight="bold" text-anchor="middle">14</text>
<text transform="translate(840.2 206.9) scale(0.97 1)" x="0" y="0" font-size="14.2" font-weight="bold" text-anchor="middle">13</text>
<text transform="translate(879 227.5) scale(0.97 1)" x="0" y="0" font-size="14.2" font-weight="bold" text-anchor="middle">44</text>
<text transform="translate(898.6 241.2) scale(0.97 1)" x="0" y="0" font-size="14.2" font-weight="bold" text-anchor="middle">43</text>
<text transform="translate(742.7 266.4) scale(0.97 1)" x="0" y="0" font-size="14.2" font-weight="bold" text-anchor="middle">21</text>
<text transform="translate(761.9 277.2) scale(0.97 1)" x="0" y="0" font-size="14.2" font-weight="bold" text-anchor="middle">22</text>
<text transform="translate(780.8 294.6) scale(0.97 1)" x="0" y="0" font-size="14.2" font-weight="bold" text-anchor="middle">20</text>
<text transform="translate(799 322.8) scale(0.97 1)" x="0" y="0" font-size="14.2" font-weight="bold" text-anchor="middle">19</text>
<text transform="translate(751.2 364) scale(0.97 1)" x="0" y="0" font-size="14.2" font-weight="bold" text-anchor="middle">11</text>
<text transform="translate(776.1 378.7) scale(0.97 1)" x="0" y="0" font-size="14.2" font-weight="bold" text-anchor="middle">10</text>
<text transform="translate(797 393.2) scale(0.97 1)" x="0" y="0" font-size="14.2" font-weight="bold" text-anchor="middle">9</text>
<text transform="translate(820.3 406.3) scale(0.97 1)" x="0" y="0" font-size="14.2" font-weight="bold" text-anchor="middle">12</text>
<text transform="translate(859.5 447) scale(0.97 1)" x="0" y="0" font-size="14.2" font-weight="bold" text-anchor="middle">8</text>
<text transform="translate(767.4 455.1) scale(0.97 1)" x="0" y="0" font-size="14.2" font-weight="bold" text-anchor="middle">56</text>
<text transform="translate(794.5 468.7) scale(0.97 1)" x="0" y="0" font-size="14.2" font-weight="bold" text-anchor="middle">46</text>
<text transform="translate(816.3 480.9) scale(0.97 1)" x="0" y="0" font-size="14.2" font-weight="bold" text-anchor="middle">26</text>
<text transform="translate(837.2 499.4) scale(0.97 1)" x="0" y="0" font-size="14.2" font-weight="bold" text-anchor="middle">39</text>
<text transform="translate(878.2 543.9) scale(0.97 1)" x="0" y="0" font-size="14.2" font-weight="bold" text-anchor="middle">47</text>
<text transform="translate(912.3 561) scale(0.97 1)" x="0" y="0" font-size="14.2" font-weight="bold" text-anchor="middle">41</text>
<text transform="translate(207.2 422.9) scale(0.97 1)" x="0" y="0" font-size="14.2" font-weight="bold" text-anchor="middle">23</text>
<text transform="translate(264.5 461.4) scale(0.97 1)" x="0" y="0" font-size="14.2" font-weight="bold" text-anchor="middle">24</text>
<text transform="translate(287.2 472.7) scale(0.97 1)" x="0" y="0" font-size="14.2" font-weight="bold" text-anchor="middle">25</text>
<text transform="translate(275 535.6) scale(0.97 1)" x="0" y="0" font-size="14.2" font-weight="bold" text-anchor="middle">1</text>
<text transform="translate(346.9 602.3) scale(0.97 1)" x="0" y="0" font-size="14.2" font-weight="bold" text-anchor="middle">45</text>
<text transform="translate(139.3 517.3) scale(0.97 1)" x="0" y="0" font-size="14.2" font-weight="bold" text-anchor="middle">7</text>
<text transform="translate(214 519.2) scale(0.97 1)" x="0" y="0" font-size="14.2" font-weight="bold" text-anchor="middle">2A</text>
<text transform="translate(76.3 557.3) scale(0.97 1)" x="0" y="0" font-size="14.2" font-weight="bold" text-anchor="middle">6</text>
<text transform="translate(43.5 583.9) scale(0.97 1)" x="0" y="0" font-size="14.2" font-weight="bold" text-anchor="middle">5</text>
<text transform="translate(58 578.8) scale(0.97 1)" x="0" y="0" font-size="14.2" font-weight="bold" text-anchor="middle">4</text>
<text transform="translate(214.2 589.2) scale(0.97 1)" x="0" y="0" font-size="14.2" font-weight="bold" text-anchor="middle">2</text>
<text transform="translate(230.4 584.7) scale(0.97 1)" x="0" y="0" font-size="14.2" font-weight="bold" text-anchor="middle">3</text>
<text transform="translate(203.9 616.7) scale(0.97 1)" x="0" y="0" font-size="14.2" font-weight="bold" text-anchor="middle">2A</text>
<text transform="translate(484 492.4) scale(0.97 1)" x="0" y="0" font-size="14.2" font-weight="bold" text-anchor="middle">50</text>
<text transform="translate(509 497.4) scale(0.97 1)" x="0" y="0" font-size="14.2" font-weight="bold" text-anchor="middle">55</text>
<text transform="translate(582.1 515.8) scale(0.97 1)" x="0" y="0" font-size="14.2" font-weight="bold" text-anchor="middle">53</text>
<text transform="translate(609.5 515.3) scale(0.97 1)" x="0" y="0" font-size="14.2" font-weight="bold" text-anchor="middle">48</text>
<text transform="translate(633 504.4) scale(0.97 1)" x="0" y="0" font-size="14.2" font-weight="bold" text-anchor="middle">49</text>
<text transform="translate(441.7 549.2) scale(0.97 1)" x="0" y="0" font-size="14.2" font-weight="bold" text-anchor="middle">54</text>
<text transform="translate(415.5 591.3) scale(0.97 1)" x="0" y="0" font-size="14.2" font-weight="bold" text-anchor="middle">49</text>
<text transform="translate(435.4 582.8) scale(0.97 1)" x="0" y="0" font-size="14.2" font-weight="bold" text-anchor="middle">48</text>
<text transform="translate(605.4 607.2) scale(0.97 1)" x="0" y="0" font-size="14.2" font-weight="bold" text-anchor="middle">51</text>
<text transform="translate(624.6 617.7) scale(0.97 1)" x="0" y="0" font-size="14.2" font-weight="bold" text-anchor="middle">52</text>
<rect x="21.5" y="376.7" width="354.5" height="261.6" fill="none" stroke="#000" stroke-width="2.7"/>
<polyline points="21.5,405 49,405 49,376.7" fill="none" stroke="#000" stroke-width="1.8" />
<path d="M29.7,500 H247.8 V536 L270,533.8 L247.8,546.2 V628.3 H29.7 Z" fill="none" stroke="#000" stroke-width="2.6" stroke-linejoin="miter"/>
<rect x="386.2" y="473.5" width="276.8" height="164.8" fill="none" stroke="#000" stroke-width="2.6"/>
<polyline points="386.2,501.4 413.8,501.4 413.8,473.5" fill="none" stroke="#000" stroke-width="1.8" />
<rect x="551" y="315.6" width="27.6" height="28.1" fill="#fff" stroke="#000" stroke-width="2.3"/>
<polygon points="561.5,315 567.8,315 565.4,286 563.9,286" fill="#000" stroke="#000" stroke-width="0.6" />
<rect x="895.5" y="409.8" width="27" height="28.3" fill="#fff" stroke="#000" stroke-width="2"/>
<polygon points="902.5,438.5 909,438.5 899.5,463 898.2,463" fill="#000" stroke="#000" stroke-width="0.6" />
<text x="34.9" y="399" font-size="24" font-weight="bold" text-anchor="middle">A</text>
<text x="400.6" y="495.8" font-size="24" font-weight="bold" text-anchor="middle">B</text>
<text x="564.8" y="338.8" font-size="24" font-weight="bold" text-anchor="middle">A</text>
<text x="908.7" y="432.1" font-size="24" font-weight="bold" text-anchor="middle">B</text>
<text x="889.8" y="613.9" font-size="7.3" font-weight="normal" text-anchor="middle">Volvo Construction</text>
<text x="889.8" y="621.7" font-size="7.3" font-weight="normal" text-anchor="middle">Equipment</text>
<text x="888.2" y="634.8" font-size="11.5" font-weight="bold" text-anchor="middle">1045931</text>
</svg></body></html>
